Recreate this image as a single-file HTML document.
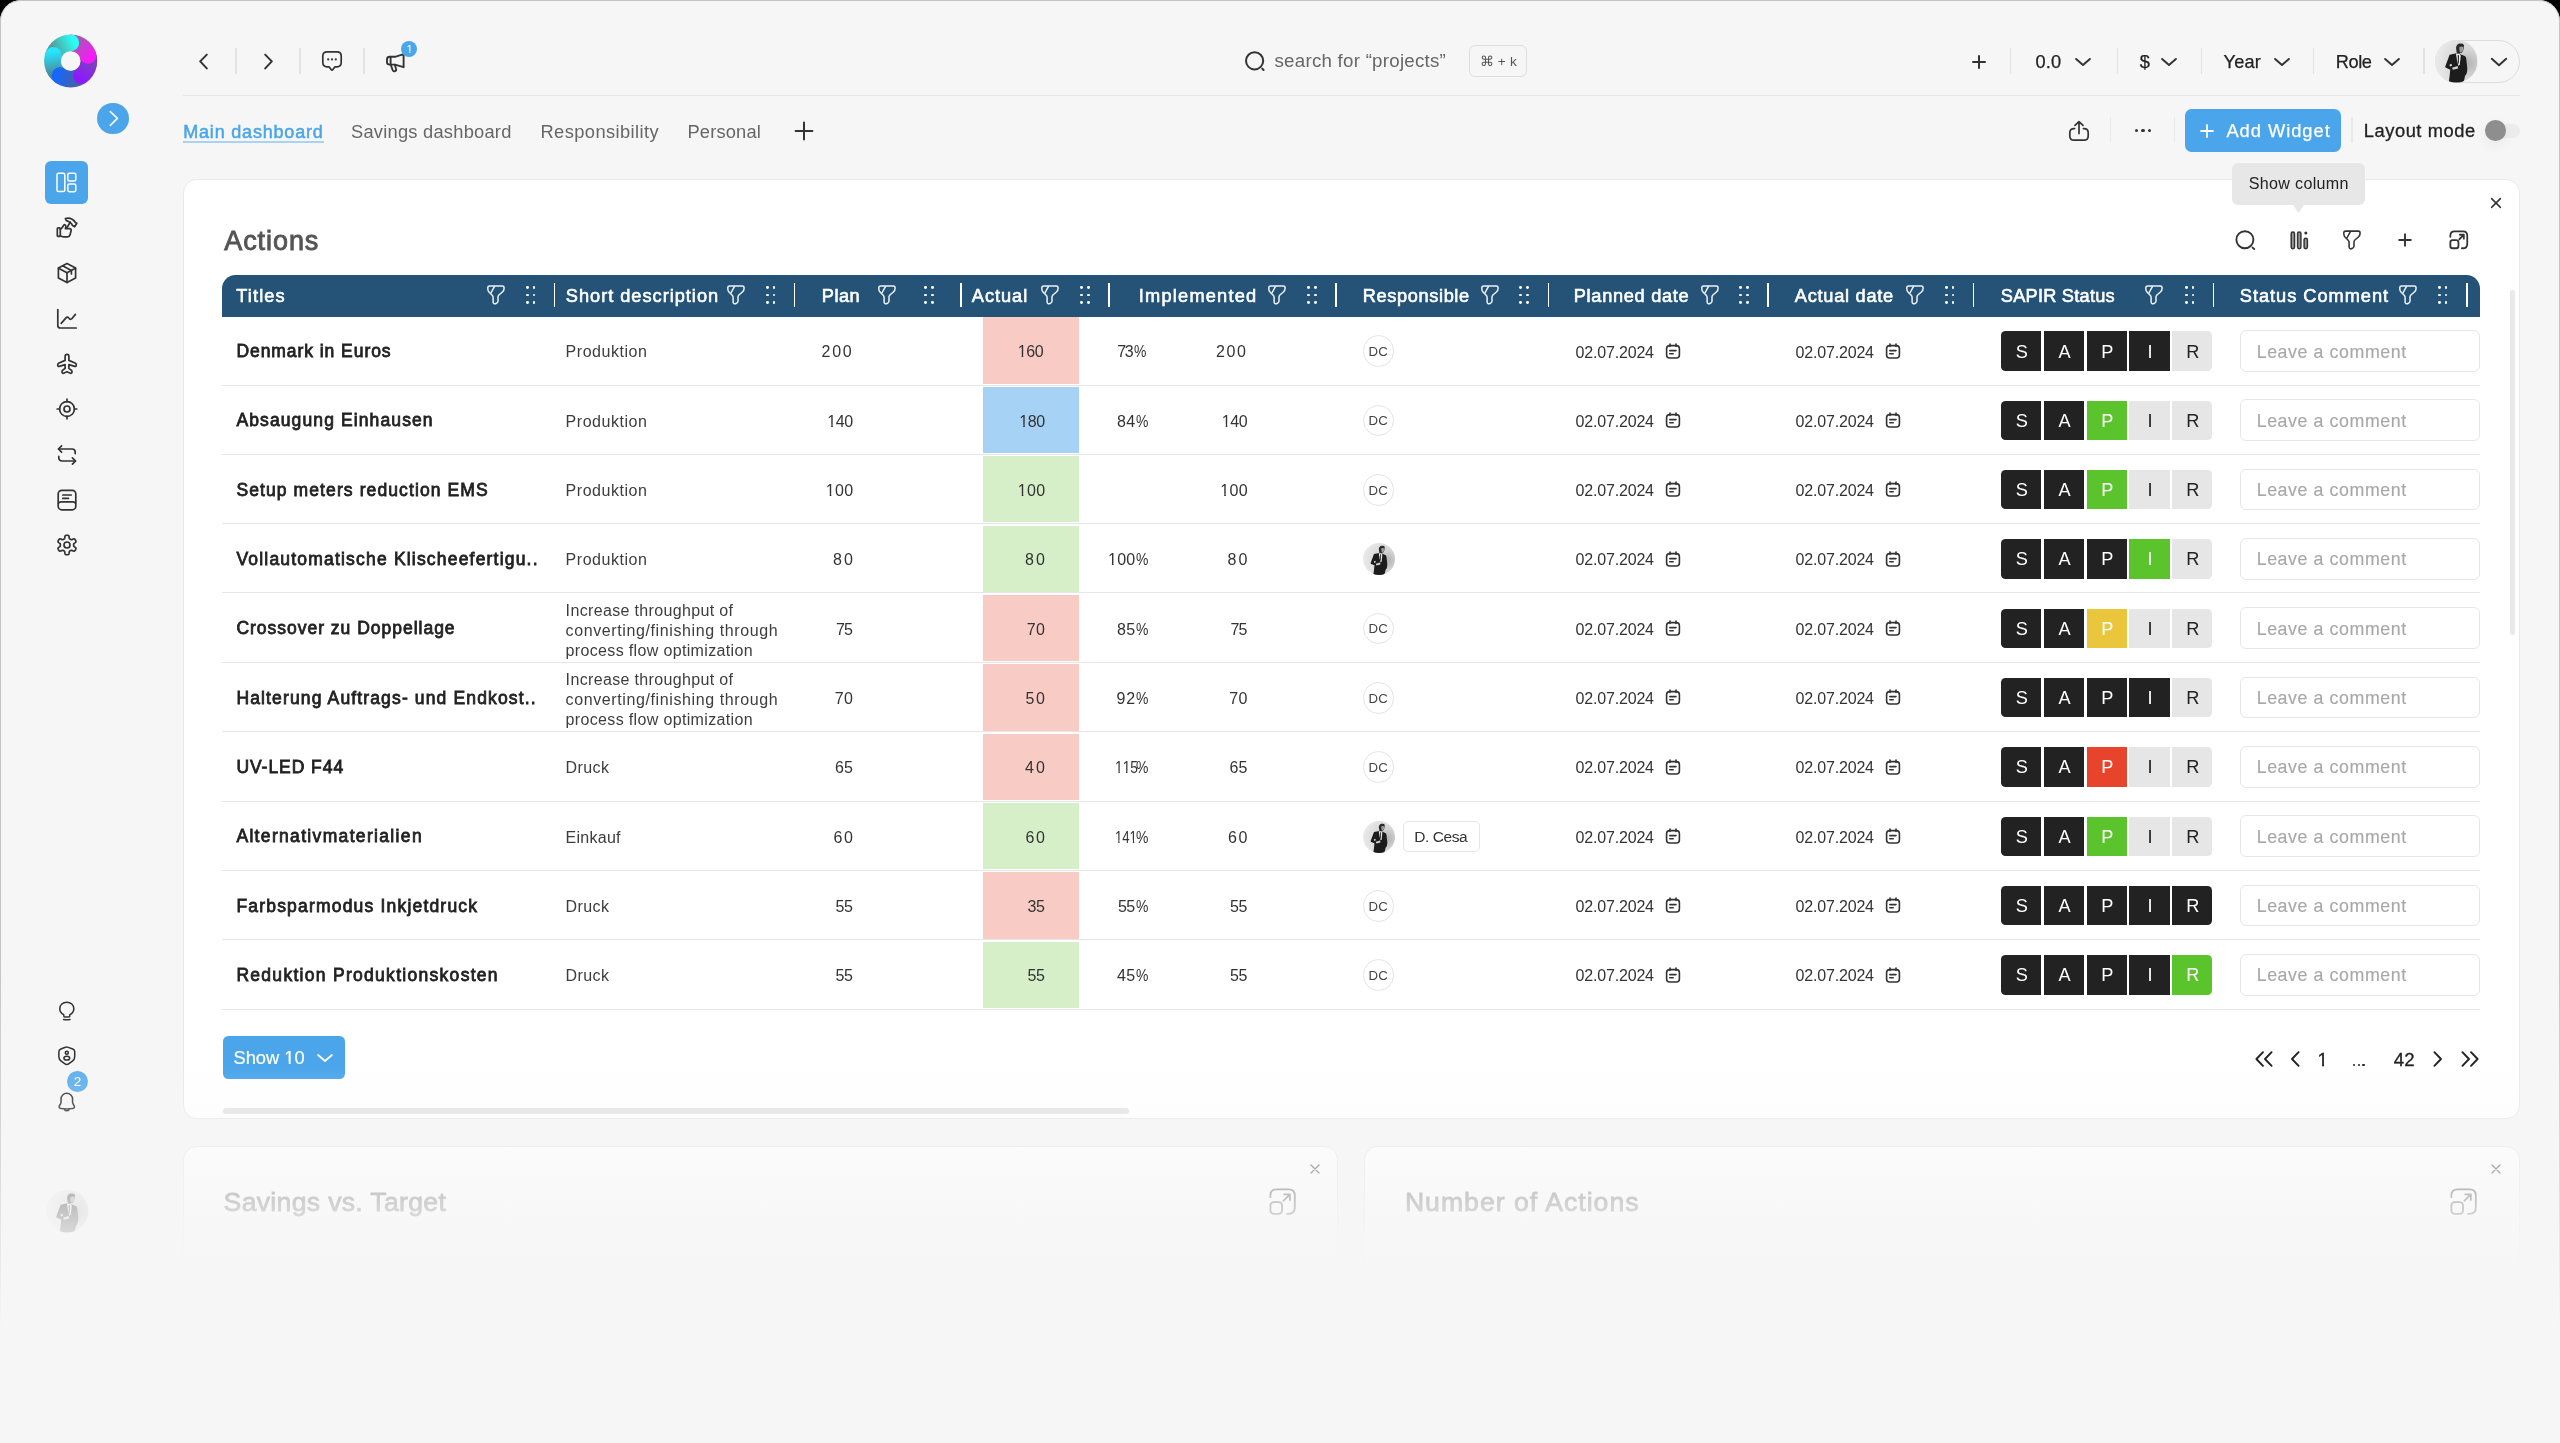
<!DOCTYPE html>
<html><head><meta charset="utf-8"><title>Dashboard</title>
<style>
html,body{margin:0;padding:0;}
body{width:2560px;height:1443px;overflow:hidden;background:#000;font-family:"Liberation Sans",sans-serif;position:relative;}
.b{position:absolute;box-sizing:border-box;}
.t{position:absolute;white-space:nowrap;line-height:1;}
svg{overflow:visible;}
</style></head><body>
<div id="root" style="position:absolute;left:0;top:0;width:2560px;height:1443px;overflow:hidden;will-change:transform;">
<div class="b" style="left:0;top:0;width:2560px;height:1500px;background:#f6f6f6;border-radius:21px 21px 0 0;"></div>
<div class="b" style="left:0;top:0;width:2560px;height:1500px;border-radius:21px 21px 0 0;border:1.7px solid #c4c4c4;border-bottom:none;-webkit-mask-image:linear-gradient(to bottom,#000 0,#000 950px,rgba(0,0,0,.6) 1150px,rgba(0,0,0,0) 1330px);mask-image:linear-gradient(to bottom,#000 0,#000 950px,rgba(0,0,0,.6) 1150px,rgba(0,0,0,0) 1330px);"></div>
<svg class="b" style="left:0.00px;top:0.00px;" width="140" height="120" viewBox="0 0 140 120" fill="none"><defs><linearGradient id="lg0" gradientUnits="userSpaceOnUse" x1="58.06" y1="74.09" x2="55.27" y2="51.36"><stop offset="0" stop-color="#4a8798"/><stop offset="1" stop-color="#27e4ff"/></linearGradient><linearGradient id="lg1" gradientUnits="userSpaceOnUse" x1="54.34" y1="53.02" x2="75.10" y2="43.34"><stop offset="0" stop-color="#559a9a"/><stop offset="1" stop-color="#2bfff2"/></linearGradient><linearGradient id="lg2" gradientUnits="userSpaceOnUse" x1="73.23" y1="42.98" x2="88.86" y2="59.73"><stop offset="0" stop-color="#a35ab0"/><stop offset="1" stop-color="#f71af8"/></linearGradient><linearGradient id="lg3" gradientUnits="userSpaceOnUse" x1="88.62" y1="57.84" x2="77.52" y2="77.87"><stop offset="0" stop-color="#7c45b4"/><stop offset="1" stop-color="#8d18ff"/></linearGradient><linearGradient id="lg4" gradientUnits="userSpaceOnUse" x1="79.24" y1="77.07" x2="56.76" y2="72.70"><stop offset="0" stop-color="#4c5f9e"/><stop offset="1" stop-color="#1667ff"/></linearGradient><clipPath id="lgc"><circle cx="70.7" cy="61" r="26.6"/></clipPath></defs><g clip-path="url(#lgc)"><path d="M60.39 76.00A18.20 18.20 0 0 1 53.39 55.38" stroke="url(#lg0)" stroke-width="17.80"/><path d="M53.25 55.83A18.20 18.20 0 0 1 70.70 42.80" stroke="url(#lg1)" stroke-width="17.80"/><path d="M70.22 42.81A18.20 18.20 0 0 1 88.01 55.38" stroke="url(#lg2)" stroke-width="17.80"/><path d="M87.86 54.92A18.20 18.20 0 0 1 81.40 75.72" stroke="url(#lg3)" stroke-width="17.80"/><path d="M81.78 75.44A18.20 18.20 0 0 1 60.00 75.72" stroke="url(#lg4)" stroke-width="17.80"/><circle cx="53.39" cy="55.38" r="8.40" fill="url(#lg0)"/><circle cx="70.70" cy="42.80" r="8.40" fill="url(#lg1)"/><circle cx="88.01" cy="55.38" r="8.40" fill="url(#lg2)"/><circle cx="81.40" cy="75.72" r="8.40" fill="url(#lg3)"/><circle cx="60.00" cy="75.72" r="8.40" fill="url(#lg4)"/></g><circle cx="70.7" cy="61" r="9.8" fill="#f6f6f6"/></svg>
<div class="b" style="left:97.3px;top:102.6px;width:31.9px;height:31.9px;border-radius:50%;background:#4aa5ea"></div>
<svg class="b" style="left:97.00px;top:102.30px;" width="32.5" height="32.5" viewBox="0 0 32.5 32.5" fill="none"><path d="M13.3 9.6L20.4 16.4L13.3 23.4" stroke="#fff" stroke-width="1.6" stroke-linecap="round" stroke-linejoin="round"/></svg>
<div class="b" style="left:45.3px;top:161.3px;width:42.8px;height:42.8px;border-radius:6px;background:#4aa5ea"></div>
<svg class="b" style="left:45.30px;top:161.30px;" width="42.8" height="42.8" viewBox="0 0 42.8 42.8" fill="none"><rect x="12" y="12.2" width="7.8" height="18.4" rx="1.6" stroke="#fff" stroke-width="1.5"/><rect x="22.8" y="12.2" width="8" height="7.8" rx="1.6" stroke="#fff" stroke-width="1.5"/><rect x="22.8" y="22.9" width="8" height="7.8" rx="1.6" stroke="#fff" stroke-width="1.5"/></svg>
<svg class="b" style="left:54.70px;top:216.30px;" width="24" height="24" viewBox="0 0 24 24" fill="none"><g stroke="#333" stroke-width="1.7" stroke-linecap="round" stroke-linejoin="round"><rect x="2.3" y="11.8" width="3" height="8.6" rx="1"/><path d="M5.3 13.2C7 12.6 7.8 10.6 8.6 9.4C9.6 8 11.2 9 10.8 10.8L10.4 12.6H14.6C15.8 12.6 16.4 13.6 16.1 14.7L15 19C14.7 20.2 13.8 20.8 12.6 20.8H8.4C7.2 20.8 6.2 20.3 5.3 19.6"/><path d="M11.6 12.2L15.2 6.2"/><path d="M10.4 2.6C14 1.6 18 3 20.4 6.4L21.8 7.2L19.6 10.8L17.6 9.6C16.6 7 14 5.4 11.4 4.6Z"/></g></svg>
<svg class="b" style="left:54.70px;top:261.20px;" width="24" height="24" viewBox="0 0 24 24" fill="none"><g stroke="#333" stroke-width="1.7" stroke-linecap="round" stroke-linejoin="round"><path d="M12 2.4L20.6 7V17L12 21.6L3.4 17V7Z"/><path d="M3.6 7.2L12 11.8L20.4 7.2"/><path d="M12 11.8V21.4"/><path d="M7.6 4.8L16.4 9.6V13"/></g></svg>
<svg class="b" style="left:54.70px;top:306.80px;" width="24" height="24" viewBox="0 0 24 24" fill="none"><g stroke="#333" stroke-width="1.7" stroke-linecap="round" stroke-linejoin="round"><path d="M2.8 2.6V18.4C2.8 20 3.8 21 5.4 21H21.2"/><path d="M6.2 16.4L11.2 10.6C11.8 9.9 12.6 9.9 13.3 10.5L14.6 11.8C15.3 12.5 16.2 12.4 16.8 11.7L20.4 7.4"/></g></svg>
<svg class="b" style="left:54.70px;top:352.00px;" width="24" height="24" viewBox="0 0 24 24" fill="none"><g stroke="#333" stroke-width="1.7" stroke-linecap="round" stroke-linejoin="round"><path d="M12 2.4C13.2 2.4 13.9 3.4 13.9 4.6V8.4L20 11C20.9 11.4 21.3 12 21.3 12.9V13.3C21.3 14.2 20.5 14.7 19.7 14.4L13.9 12.6V16.4L16.3 18.2C16.8 18.6 17 19 17 19.6V20C17 20.9 16.2 21.5 15.4 21.2L12 19.8L8.6 21.2C7.8 21.5 7 20.9 7 20V19.6C7 19 7.2 18.6 7.7 18.2L10.1 16.4V12.6L4.3 14.4C3.5 14.7 2.7 14.2 2.7 13.3V12.9C2.7 12 3.1 11.4 4 11L10.1 8.4V4.6C10.1 3.4 10.8 2.4 12 2.4Z"/></g></svg>
<svg class="b" style="left:54.70px;top:397.30px;" width="24" height="24" viewBox="0 0 24 24" fill="none"><g stroke="#333" stroke-width="1.7" stroke-linecap="round" stroke-linejoin="round"><circle cx="12" cy="12" r="7.4"/><circle cx="12" cy="12" r="3"/><path d="M12 2.2V4.6M12 19.4V21.8M2.2 12H4.6M19.4 12H21.8"/></g></svg>
<svg class="b" style="left:54.70px;top:442.50px;" width="24" height="24" viewBox="0 0 24 24" fill="none"><g stroke="#333" stroke-width="1.7" stroke-linecap="round" stroke-linejoin="round"><path d="M6.6 2.8L3.4 6L6.6 9.2"/><path d="M3.8 6H17C18.8 6 20.2 7.2 20.2 9V10.6"/><path d="M17.4 14.8L20.6 18L17.4 21.2"/><path d="M20.2 18H7C5.2 18 3.8 16.8 3.8 15V13.4"/></g></svg>
<svg class="b" style="left:54.50px;top:487.90px;" width="24" height="24" viewBox="0 0 24 24" fill="none"><g stroke="#333" stroke-width="1.7" stroke-linecap="round" stroke-linejoin="round"><rect x="3.2" y="2.4" width="17.6" height="19.4" rx="3.6"/><path d="M3.6 15.2C4 14.4 4.9 13.9 6 13.9H18C19.1 13.9 20 14.4 20.4 15.2"/><path d="M7.8 7H16.2M7.8 10.4H13.4"/></g></svg>
<svg class="b" style="left:54.70px;top:533.40px;" width="24" height="24" viewBox="0 0 24 24" fill="none"><g stroke="#333" stroke-width="1.7" stroke-linecap="round" stroke-linejoin="round"><path d="M12.00 2.24L12.17 2.24L12.34 2.25L12.51 2.26L12.68 2.28L12.85 2.31L13.02 2.34L13.18 2.39L13.34 2.45L13.50 2.54L13.65 2.66L13.78 2.83L13.90 3.05L14.00 3.34L14.07 3.69L14.12 4.08L14.16 4.47L14.20 4.81L14.24 5.10L14.30 5.33L14.37 5.50L14.45 5.63L14.53 5.73L14.62 5.82L14.72 5.89L14.82 5.96L14.92 6.02L15.02 6.08L15.12 6.13L15.22 6.19L15.32 6.25L15.42 6.31L15.52 6.37L15.62 6.42L15.72 6.48L15.83 6.54L15.93 6.59L16.04 6.64L16.16 6.67L16.29 6.70L16.45 6.70L16.63 6.67L16.85 6.61L17.13 6.50L17.45 6.36L17.80 6.20L18.16 6.05L18.50 5.94L18.80 5.88L19.05 5.87L19.26 5.91L19.44 5.97L19.60 6.07L19.73 6.17L19.86 6.29L19.97 6.42L20.08 6.55L20.18 6.69L20.27 6.83L20.37 6.97L20.45 7.12L20.54 7.27L20.62 7.42L20.69 7.57L20.76 7.73L20.82 7.89L20.87 8.05L20.91 8.22L20.94 8.39L20.94 8.57L20.91 8.76L20.83 8.96L20.70 9.17L20.50 9.40L20.23 9.64L19.92 9.88L19.61 10.10L19.32 10.31L19.10 10.49L18.93 10.65L18.81 10.80L18.74 10.93L18.69 11.06L18.67 11.18L18.65 11.30L18.64 11.42L18.64 11.54L18.64 11.65L18.64 11.77L18.64 11.88L18.64 12.00L18.64 12.12L18.64 12.23L18.64 12.35L18.64 12.46L18.64 12.58L18.65 12.70L18.67 12.82L18.69 12.94L18.74 13.07L18.81 13.20L18.93 13.35L19.10 13.51L19.32 13.69L19.61 13.90L19.92 14.12L20.23 14.36L20.50 14.60L20.70 14.83L20.83 15.04L20.91 15.24L20.94 15.43L20.94 15.61L20.91 15.78L20.87 15.95L20.82 16.11L20.76 16.27L20.69 16.43L20.62 16.58L20.54 16.73L20.45 16.88L20.37 17.03L20.27 17.17L20.18 17.31L20.08 17.45L19.97 17.58L19.86 17.71L19.73 17.83L19.60 17.93L19.44 18.03L19.26 18.09L19.05 18.13L18.80 18.12L18.50 18.06L18.16 17.95L17.80 17.80L17.45 17.64L17.13 17.50L16.85 17.39L16.63 17.33L16.45 17.30L16.29 17.30L16.16 17.33L16.04 17.36L15.93 17.41L15.83 17.46L15.72 17.52L15.62 17.58L15.52 17.63L15.42 17.69L15.32 17.75L15.22 17.81L15.12 17.87L15.02 17.92L14.92 17.98L14.82 18.04L14.72 18.11L14.62 18.18L14.53 18.27L14.45 18.37L14.37 18.50L14.30 18.67L14.24 18.90L14.20 19.19L14.16 19.53L14.12 19.92L14.07 20.31L14.00 20.66L13.90 20.95L13.78 21.17L13.65 21.34L13.50 21.46L13.34 21.55L13.18 21.61L13.02 21.66L12.85 21.69L12.68 21.72L12.51 21.74L12.34 21.75L12.17 21.76L12.00 21.76L11.83 21.76L11.66 21.75L11.49 21.74L11.32 21.72L11.15 21.69L10.98 21.66L10.82 21.61L10.66 21.55L10.50 21.46L10.35 21.34L10.22 21.17L10.10 20.95L10.00 20.66L9.93 20.31L9.88 19.92L9.84 19.53L9.80 19.19L9.76 18.90L9.70 18.67L9.63 18.50L9.55 18.37L9.47 18.27L9.38 18.18L9.28 18.11L9.18 18.04L9.08 17.98L8.98 17.92L8.88 17.87L8.78 17.81L8.68 17.75L8.58 17.69L8.48 17.63L8.38 17.58L8.28 17.52L8.17 17.46L8.07 17.41L7.96 17.36L7.84 17.33L7.71 17.30L7.55 17.30L7.37 17.33L7.15 17.39L6.87 17.50L6.55 17.64L6.20 17.80L5.84 17.95L5.50 18.06L5.20 18.12L4.95 18.13L4.74 18.09L4.56 18.03L4.40 17.93L4.27 17.83L4.14 17.71L4.03 17.58L3.92 17.45L3.82 17.31L3.73 17.17L3.63 17.03L3.55 16.88L3.46 16.73L3.38 16.58L3.31 16.43L3.24 16.27L3.18 16.11L3.13 15.95L3.09 15.78L3.06 15.61L3.06 15.43L3.09 15.24L3.17 15.04L3.30 14.83L3.50 14.60L3.77 14.36L4.08 14.12L4.39 13.90L4.68 13.69L4.90 13.51L5.07 13.35L5.19 13.20L5.26 13.07L5.31 12.94L5.33 12.82L5.35 12.70L5.36 12.58L5.36 12.46L5.36 12.35L5.36 12.23L5.36 12.12L5.36 12.00L5.36 11.88L5.36 11.77L5.36 11.65L5.36 11.54L5.36 11.42L5.35 11.30L5.33 11.18L5.31 11.06L5.26 10.93L5.19 10.80L5.07 10.65L4.90 10.49L4.68 10.31L4.39 10.10L4.08 9.88L3.77 9.64L3.50 9.40L3.30 9.17L3.17 8.96L3.09 8.76L3.06 8.57L3.06 8.39L3.09 8.22L3.13 8.05L3.18 7.89L3.24 7.73L3.31 7.57L3.38 7.42L3.46 7.27L3.55 7.12L3.63 6.97L3.73 6.83L3.82 6.69L3.92 6.55L4.03 6.42L4.14 6.29L4.27 6.17L4.40 6.07L4.56 5.97L4.74 5.91L4.95 5.87L5.20 5.88L5.50 5.94L5.84 6.05L6.20 6.20L6.55 6.36L6.87 6.50L7.15 6.61L7.37 6.67L7.55 6.70L7.71 6.70L7.84 6.67L7.96 6.64L8.07 6.59L8.17 6.54L8.28 6.48L8.38 6.42L8.48 6.37L8.58 6.31L8.68 6.25L8.78 6.19L8.88 6.13L8.98 6.08L9.08 6.02L9.18 5.96L9.28 5.89L9.38 5.82L9.47 5.73L9.55 5.63L9.63 5.50L9.70 5.33L9.76 5.10L9.80 4.81L9.84 4.47L9.88 4.08L9.93 3.69L10.00 3.34L10.10 3.05L10.22 2.83L10.35 2.66L10.50 2.54L10.66 2.45L10.82 2.39L10.98 2.34L11.15 2.31L11.32 2.28L11.49 2.26L11.66 2.25L11.83 2.24Z"/><circle cx="12" cy="12" r="3"/></g></svg>
<svg class="b" style="left:55.90px;top:1000.00px;" width="21.6" height="21.6" viewBox="0 0 24 24" fill="none"><g stroke="#333" stroke-width="1.7" stroke-linecap="round" stroke-linejoin="round"><path d="M8.6 16.2C5.8 14.8 4.2 12.4 4.2 9.6C4.2 5.4 7.6 2.4 12 2.4C16.4 2.4 19.8 5.4 19.8 9.6C19.8 12.4 18.2 14.8 15.4 16.2V17.6C15.4 18.4 15 18.8 14.2 18.8H9.8C9 18.8 8.6 18.4 8.6 17.6Z"/><path d="M8.4 21.6C10.8 22.2 13.2 22.2 15.6 21.6"/></g></svg>
<svg class="b" style="left:55.90px;top:1045.10px;" width="21.6" height="21.6" viewBox="0 0 24 24" fill="none"><g stroke="#333" stroke-width="1.7" stroke-linecap="round" stroke-linejoin="round"><path d="M10.4 2.6C11.4 2.2 12.6 2.2 13.6 2.6L18.6 4.5C20 5 20.8 6.2 20.8 7.6V13C20.8 15 19.8 16.8 18.2 18L14.4 20.8C13 21.9 11 21.9 9.6 20.8L5.8 18C4.2 16.8 3.2 15 3.2 13V7.6C3.2 6.2 4 5 5.4 4.5Z"/><circle cx="12" cy="8.6" r="1.7"/><ellipse cx="12" cy="14.6" rx="3.2" ry="2"/></g></svg>
<svg class="b" style="left:55.90px;top:1090.80px;" width="21.6" height="21.6" viewBox="0 0 24 24" fill="none"><g stroke="#333" stroke-width="1.7" stroke-linecap="round" stroke-linejoin="round"><path d="M12 2.6C8.4 2.6 5.6 5.4 5.6 9V12.2C5.6 13 5.3 13.8 4.9 14.5L3.8 16.4C3 17.8 3.7 19.2 5.2 19.4C9.7 20.1 14.3 20.1 18.8 19.4C20.3 19.2 21 17.8 20.2 16.4L19.1 14.5C18.7 13.8 18.4 13 18.4 12.2V9C18.4 5.4 15.6 2.6 12 2.6Z"/><path d="M9.4 20.4C9.8 21.4 10.8 22 12 22C13.2 22 14.2 21.4 14.6 20.4"/></g></svg>
<div class="b" style="left:66.8px;top:1070.8px;width:21.2px;height:21.2px;border-radius:50%;background:#5eb0ee"></div>
<div class="t " style="left:73.80px;top:1075.40px;font-size:13.60px;letter-spacing:0.000px;color:#fff;">2</div>
<svg class="b" style="left:45.50px;top:1189.70px;" width="42.6" height="42.6" viewBox="0 0 42.5 42.5" fill="none"><defs><radialGradient id="agsb" cx="0.78" cy="0.55" r="0.75"><stop offset="0" stop-color="#b4b4b4"/><stop offset="0.45" stop-color="#d6d6d6"/><stop offset="1" stop-color="#e9e9e9"/></radialGradient><clipPath id="acsb"><circle cx="21.25" cy="21.25" r="21.25"/></clipPath></defs><g clip-path="url(#acsb)"><rect width="42.5" height="42.5" fill="url(#agsb)"/><path d="M21.2 9.4C20.4 5.2 23.4 3.2 26 3.6C28.4 3.8 29.4 5 28.8 6.4C28.6 8.2 28.6 9.6 27.6 11.6C27 12.8 26.2 13 25 12.8L24.8 14.4L21.8 14Z" fill="#2a2a2a"/><path d="M24.2 7.2C25.6 6.2 27.4 6.4 28.4 7.2C28.4 9 28 10.6 27.2 11.8C26.4 12.6 25.2 12.4 24.6 11.6Z" fill="#9a9a9a"/><path d="M14.6 14.6L21.6 13.2L26 14.4L29.6 16C30.6 16.6 31 17.4 31.2 18.6L32.2 27.6C32.4 29.8 32 32 31.4 34L30 35.6L29.2 39.6L27.6 43H13.6L14.6 36L15.2 29.6L11 27.8C10.2 27.4 10 26.8 10.4 26Z" fill="#1c1c1c"/><path d="M20.9 13.5L24.6 13.6L25.7 15.6L24.8 24.2L23.4 26L22 20.4Z" fill="#e9e9e9"/><path d="M22.7 14.9L24 15.1L23.8 22.6L23.3 24.2L22.8 22.4Z" fill="#2a2a2a"/><path d="M14.4 24.6L16.4 23.6L17 25.6L15 26.4Z" fill="#ddd"/><path d="M17 27.6L22.6 26L23.2 28.4L17.8 29.8Z" fill="#cfcfcf"/></g></svg>
<svg class="b" style="left:195.00px;top:50.00px;" width="16" height="24" viewBox="0 0 16 24" fill="none"><path d="M11.8 4.6L5.2 11.4L11.8 18.4" stroke="#333" stroke-width="2" stroke-linecap="round" stroke-linejoin="round"/></svg>
<div class="b" style="left:235.25px;top:48.00px;width:1.50px;height:26.40px;background:#e2e2e2;"></div>
<svg class="b" style="left:260.00px;top:50.00px;" width="16" height="24" viewBox="0 0 16 24" fill="none"><path d="M5.2 4.6L11.8 11.4L5.2 18.4" stroke="#333" stroke-width="2" stroke-linecap="round" stroke-linejoin="round"/></svg>
<div class="b" style="left:299.25px;top:48.00px;width:1.50px;height:26.40px;background:#e2e2e2;"></div>
<svg class="b" style="left:320.00px;top:49.30px;" width="24" height="24" viewBox="0 0 24 24" fill="none"><g stroke="#333" stroke-width="1.7" stroke-linecap="round" stroke-linejoin="round"><path d="M7 2.8H17C19.6 2.8 21.2 4.4 21.2 7V13.6C21.2 16.2 19.6 17.8 17 17.8H15L12.9 20.6C12.4 21.3 11.6 21.3 11.1 20.6L9 17.8H7C4.4 17.8 2.8 16.2 2.8 13.6V7C2.8 4.4 4.4 2.8 7 2.8Z"/></g><circle cx="8.2" cy="10.4" r="1.1" fill="#333"/><circle cx="12" cy="10.4" r="1.1" fill="#333"/><circle cx="15.8" cy="10.4" r="1.1" fill="#333"/></svg>
<div class="b" style="left:363.05px;top:48.00px;width:1.50px;height:26.40px;background:#e2e2e2;"></div>
<svg class="b" style="left:384.00px;top:49.80px;" width="24" height="24" viewBox="0 0 24 24" fill="none"><g stroke="#333" stroke-width="1.9" stroke-linecap="round" stroke-linejoin="round"><path d="M19.6 4.2V17.2L11 14.6H5.6C4 14.6 3 13.6 3 12V9.4C3 7.8 4 6.8 5.6 6.8H11Z"/><path d="M6.6 7V14.4"/><path d="M6.8 14.8L8.6 20C9 21.2 10 21.6 11 21.2C12 20.8 12.4 19.9 12 18.8L10.8 14.8"/></g></svg>
<div class="b" style="left:401.2px;top:40.6px;width:16.2px;height:16.2px;border-radius:50%;background:#4aa5ea"></div>
<div class="t " style="left:406.60px;top:43.80px;font-size:11.30px;letter-spacing:0.000px;color:#fff;"><span style="display:inline-block;clip-path:polygon(-2px -6px,11.30px -6px,11.30px 7.11px,3.93px 7.11px,3.93px 12.00px,2.75px 12.00px,2.75px 7.11px,-2px 7.11px)">1</span></div>
<div class="b" style="left:183.00px;top:94.60px;width:2337.00px;height:1.40px;background:#e6e6e6;"></div>
<svg class="b" style="left:1243.00px;top:49.00px;" width="24" height="24" viewBox="0 0 24 24" fill="none"><circle cx="11.6" cy="11.8" r="8.6" stroke="#333" stroke-width="2"/><path d="M19.2 19.6L20.6 21" stroke="#333" stroke-width="2" stroke-linecap="round"/></svg>
<div class="t " style="left:1274.50px;top:52.40px;font-size:18.70px;letter-spacing:0.259px;color:#666;">search for “projects”</div>
<div class="b" style="left:1469.00px;top:45.30px;width:58.20px;height:32.10px;border:1.5px solid #dedede;border-radius:6px;"></div>
<div class="t " style="left:1479.50px;top:55.30px;font-size:13.60px;letter-spacing:0.233px;color:#555;">⌘ + k</div>
<svg class="b" style="left:1966.75px;top:49.70px;" width="24" height="24" viewBox="0 0 24 24" fill="none"><path d="M12 6V18M6 12H18" stroke="#333" stroke-width="2" stroke-linecap="round" stroke-linejoin="round"/></svg>
<div class="b" style="left:2009.65px;top:48.00px;width:1.50px;height:26.40px;background:#e2e2e2;"></div>
<div class="t " style="left:2035.62px;top:53.20px;font-size:18.20px;letter-spacing:0.135px;color:#222;-webkit-text-stroke:0.25px #222;">0.0</div>
<svg class="b" style="left:2071.00px;top:54.20px;" width="24" height="16" viewBox="0 0 24 16" fill="none"><path d="M5.10 5.00L12 11.00L18.90 5.00" stroke="#333" stroke-width="2" stroke-linecap="round" stroke-linejoin="round"/></svg>
<div class="b" style="left:2116.55px;top:48.00px;width:1.50px;height:26.40px;background:#e2e2e2;"></div>
<div class="t " style="left:2139.72px;top:53.20px;font-size:18.20px;letter-spacing:0.000px;color:#222;-webkit-text-stroke:0.25px #222;">$</div>
<svg class="b" style="left:2157.30px;top:54.20px;" width="24" height="16" viewBox="0 0 24 16" fill="none"><path d="M5.10 5.00L12 11.00L18.90 5.00" stroke="#333" stroke-width="2" stroke-linecap="round" stroke-linejoin="round"/></svg>
<div class="b" style="left:2200.55px;top:48.00px;width:1.50px;height:26.40px;background:#e2e2e2;"></div>
<div class="t " style="left:2223.53px;top:53.20px;font-size:18.20px;letter-spacing:0.180px;color:#222;-webkit-text-stroke:0.25px #222;">Year</div>
<svg class="b" style="left:2269.70px;top:54.20px;" width="24" height="16" viewBox="0 0 24 16" fill="none"><path d="M5.10 5.00L12 11.00L18.90 5.00" stroke="#333" stroke-width="2" stroke-linecap="round" stroke-linejoin="round"/></svg>
<div class="b" style="left:2312.85px;top:48.00px;width:1.50px;height:26.40px;background:#e2e2e2;"></div>
<div class="t " style="left:2335.72px;top:53.20px;font-size:18.20px;letter-spacing:-0.420px;color:#222;-webkit-text-stroke:0.25px #222;">Role</div>
<svg class="b" style="left:2380.40px;top:54.20px;" width="24" height="16" viewBox="0 0 24 16" fill="none"><path d="M5.10 5.00L12 11.00L18.90 5.00" stroke="#333" stroke-width="2" stroke-linecap="round" stroke-linejoin="round"/></svg>
<div class="b" style="left:2423.25px;top:48.00px;width:1.50px;height:26.40px;background:#e2e2e2;"></div>
<div class="b" style="left:2435.00px;top:40.00px;width:85.00px;height:42.80px;border:1.3px solid #dcdcdc;border-radius:22px;"></div>
<svg class="b" style="left:2435.00px;top:40.10px;" width="42.6" height="42.6" viewBox="0 0 42.5 42.5" fill="none"><defs><radialGradient id="agtp" cx="0.78" cy="0.55" r="0.75"><stop offset="0" stop-color="#b4b4b4"/><stop offset="0.45" stop-color="#d6d6d6"/><stop offset="1" stop-color="#e9e9e9"/></radialGradient><clipPath id="actp"><circle cx="21.25" cy="21.25" r="21.25"/></clipPath></defs><g clip-path="url(#actp)"><rect width="42.5" height="42.5" fill="url(#agtp)"/><path d="M21.2 9.4C20.4 5.2 23.4 3.2 26 3.6C28.4 3.8 29.4 5 28.8 6.4C28.6 8.2 28.6 9.6 27.6 11.6C27 12.8 26.2 13 25 12.8L24.8 14.4L21.8 14Z" fill="#2a2a2a"/><path d="M24.2 7.2C25.6 6.2 27.4 6.4 28.4 7.2C28.4 9 28 10.6 27.2 11.8C26.4 12.6 25.2 12.4 24.6 11.6Z" fill="#9a9a9a"/><path d="M14.6 14.6L21.6 13.2L26 14.4L29.6 16C30.6 16.6 31 17.4 31.2 18.6L32.2 27.6C32.4 29.8 32 32 31.4 34L30 35.6L29.2 39.6L27.6 43H13.6L14.6 36L15.2 29.6L11 27.8C10.2 27.4 10 26.8 10.4 26Z" fill="#1c1c1c"/><path d="M20.9 13.5L24.6 13.6L25.7 15.6L24.8 24.2L23.4 26L22 20.4Z" fill="#e9e9e9"/><path d="M22.7 14.9L24 15.1L23.8 22.6L23.3 24.2L22.8 22.4Z" fill="#2a2a2a"/><path d="M14.4 24.6L16.4 23.6L17 25.6L15 26.4Z" fill="#ddd"/><path d="M17 27.6L22.6 26L23.2 28.4L17.8 29.8Z" fill="#cfcfcf"/></g></svg>
<svg class="b" style="left:2486.60px;top:53.80px;" width="24" height="16" viewBox="0 0 24 16" fill="none"><path d="M4.80 4.80L12 11.20L19.20 4.80" stroke="#333" stroke-width="2" stroke-linecap="round" stroke-linejoin="round"/></svg>
<div class="t " style="left:183.25px;top:122.80px;font-size:18.00px;letter-spacing:0.802px;color:#4aa5ea;-webkit-text-stroke:0.50px #4aa5ea;">Main dashboard</div>
<div class="b" style="left:183.00px;top:141.40px;width:140.50px;height:1.40px;background:#a9d3f5;"></div>
<div class="t " style="left:351.00px;top:122.80px;font-size:18.30px;letter-spacing:0.240px;color:#666;">Savings dashboard</div>
<div class="t " style="left:540.50px;top:122.80px;font-size:18.30px;letter-spacing:0.415px;color:#666;">Responsibility</div>
<div class="t " style="left:687.50px;top:122.80px;font-size:18.30px;letter-spacing:0.159px;color:#666;">Personal</div>
<svg class="b" style="left:792.00px;top:119.00px;" width="24" height="24" viewBox="0 0 24 24" fill="none"><path d="M12 3.6V20.4M3.6 12H20.4" stroke="#333" stroke-width="2" stroke-linecap="round" stroke-linejoin="round"/></svg>
<svg class="b" style="left:2066.70px;top:118.50px;" width="24" height="24" viewBox="0 0 24 24" fill="none"><g stroke="#333" stroke-width="1.7" stroke-linecap="round" stroke-linejoin="round"><path d="M12 14.6V2.8M8 6.4L12 2.6L16 6.4"/><path d="M7.6 9.6H7C4.4 9.6 2.8 11.2 2.8 13.8V17C2.8 19.6 4.4 21.2 7 21.2H17C19.6 21.2 21.2 19.6 21.2 17V13.8C21.2 11.2 19.6 9.6 17 9.6H16.4"/></g></svg>
<div class="b" style="left:2109.65px;top:116.90px;width:1.50px;height:26.60px;background:#eaeaea;"></div>
<div class="b" style="left:2134.80px;top:129px;width:3.3px;height:3.3px;border-radius:50%;background:#333"></div>
<div class="b" style="left:2141.30px;top:129px;width:3.3px;height:3.3px;border-radius:50%;background:#333"></div>
<div class="b" style="left:2147.80px;top:129px;width:3.3px;height:3.3px;border-radius:50%;background:#333"></div>
<div class="b" style="left:2173.55px;top:116.90px;width:1.50px;height:26.60px;background:#eaeaea;"></div>
<div class="b" style="left:2185.40px;top:109.00px;width:155.80px;height:43.00px;background:#4aa5ea;border-radius:6.5px;"></div>
<svg class="b" style="left:2194.70px;top:118.60px;" width="24" height="24" viewBox="0 0 24 24" fill="none"><path d="M12 6V18M6 12H18" stroke="#fff" stroke-width="1.8" stroke-linecap="round"/></svg>
<div class="t " style="left:2226.43px;top:122.30px;font-size:18.30px;letter-spacing:0.979px;color:#fff;-webkit-text-stroke:0.25px #fff;">Add Widget</div>
<div class="b" style="left:2351.25px;top:116.90px;width:1.50px;height:26.60px;background:#eaeaea;"></div>
<div class="t " style="left:2363.75px;top:122.30px;font-size:18.30px;letter-spacing:0.561px;color:#222;-webkit-text-stroke:0.30px #222;">Layout mode</div>
<div class="b" style="left:2485.50px;top:123.80px;width:34.50px;height:13.80px;background:#ececec;border-radius:7px;"></div>
<div class="b" style="left:2485.4px;top:120.3px;width:20.6px;height:20.6px;border-radius:50%;background:#8e8e8e;box-shadow:0 4px 14px rgba(0,0,0,.06)"></div>
<div class="b" style="left:182.80px;top:178.80px;width:2337.00px;height:939.80px;background:#fff;border:1.3px solid #e9e9e9;border-radius:13.5px;"></div>
<div class="t " style="left:224.25px;top:227.80px;font-size:27.00px;letter-spacing:0.926px;color:#555;-webkit-text-stroke:0.90px #555;">Actions</div>
<svg class="b" style="left:2488.00px;top:194.70px;" width="16" height="16" viewBox="0 0 16 16" fill="none"><path d="M3.6 3.6L12.4 12.4M12.4 3.6L3.6 12.4" stroke="#333" stroke-width="1.5" stroke-linecap="round"/></svg>
<div class="b" style="left:2232.20px;top:162.80px;width:132.80px;height:42.20px;background:#e7e7e7;border-radius:6px;"></div>
<svg class="b" style="left:2290.00px;top:204.50px;" width="17" height="9" viewBox="0 0 17 9" fill="none"><path d="M3.2 0H13.8L9.3 7C8.8 7.7 8.2 7.7 7.7 7Z" fill="#e7e7e7"/></svg>
<div class="t " style="left:2248.80px;top:175.40px;font-size:16.10px;letter-spacing:0.307px;color:#222;">Show column</div>
<svg class="b" style="left:2233.00px;top:228.00px;" width="24" height="24" viewBox="0 0 24 24" fill="none"><circle cx="11.9" cy="11.7" r="8.5" stroke="#333" stroke-width="1.9"/><path d="M19.6 19.6L21.2 21" stroke="#333" stroke-width="1.9" stroke-linecap="round"/></svg>
<svg class="b" style="left:2286.50px;top:228.00px;" width="24" height="24" viewBox="0 0 24 24" fill="none"><g stroke="#333" stroke-width="1.5"><rect x="4.2" y="3.9" width="3.3" height="16.8" rx="1.6" fill="#9a9a9a"/><rect x="10.6" y="3.9" width="3.3" height="16.8" rx="1.6" fill="#9a9a9a"/><rect x="17.1" y="10.2" width="3.3" height="10.5" rx="1.6" fill="#9a9a9a"/></g><circle cx="18.8" cy="5" r="1.5" fill="#333"/></svg>
<svg class="b" style="left:2342.00px;top:229.00px;" width="20" height="22" viewBox="0 0 20 22" fill="none"><path d="M3.6 2.1H16.4C17.6 2.1 18.1 3 18.1 4.2C18.1 5.8 17.6 7 16.4 8L12.9 11C12.2 11.6 12 12.2 12 13V17C12 17.8 11.7 18.3 11 18.8L9.9 19.5C8.6 20.3 7.1 19.6 7.1 18.1V13.4C7.1 12.5 6.8 11.9 6.2 11.3L3.2 8.3C2.2 7.3 1.8 6.2 1.8 4.8V4C1.8 2.8 2.4 2.1 3.6 2.1Z" stroke="#333" stroke-width="1.55" stroke-linejoin="round"/><path d="M8.4 2.6L4.9 9" stroke="#333" stroke-width="1.55" stroke-linecap="round"/></svg>
<svg class="b" style="left:2393.30px;top:228.20px;" width="24" height="24" viewBox="0 0 24 24" fill="none"><path d="M12 6.2V17.8M6.2 12H17.8" stroke="#333" stroke-width="1.9" stroke-linecap="round"/></svg>
<svg class="b" style="left:2447.60px;top:229.20px;" width="21.6" height="21.6" viewBox="0 0 24 24" fill="none"><g stroke="#333" stroke-width="2" stroke-linecap="round" stroke-linejoin="round"><path d="M2.6 8.6V7.4C2.6 4.4 4.4 2.6 7.4 2.6H16.6C19.6 2.6 21.4 4.4 21.4 7.4V16.6C21.4 19.6 19.6 21.4 16.6 21.4H15.4"/><rect x="2.6" y="12.4" width="9" height="9" rx="2.6"/><path d="M12.6 11.4L17.4 6.6M13.2 6.4H17.6V10.8"/></g></svg>
<div class="b" style="left:222.40px;top:274.60px;width:2257.60px;height:42.60px;background:#255377;border-radius:13.5px 13.5px 0 0;"></div>
<div class="t " style="left:236.30px;top:287.30px;font-size:18.20px;letter-spacing:1.118px;color:#fff;-webkit-text-stroke:0.60px #fff;">Titles</div>
<svg class="b" style="left:485.90px;top:283.70px;" width="20" height="22" viewBox="0 0 20 22" fill="none"><path d="M3.6 2.1H16.4C17.6 2.1 18.1 3 18.1 4.2C18.1 5.8 17.6 7 16.4 8L12.9 11C12.2 11.6 12 12.2 12 13V17C12 17.8 11.7 18.3 11 18.8L9.9 19.5C8.6 20.3 7.1 19.6 7.1 18.1V13.4C7.1 12.5 6.8 11.9 6.2 11.3L3.2 8.3C2.2 7.3 1.8 6.2 1.8 4.8V4C1.8 2.8 2.4 2.1 3.6 2.1Z" stroke="#eef2f6" stroke-width="1.5" stroke-linejoin="round"/><path d="M8.4 2.6L4.9 9" stroke="#eef2f6" stroke-width="1.5" stroke-linecap="round"/></svg>
<div class="b" style="left:525.80px;top:286.00px;width:2.8px;height:2.8px;border-radius:50%;background:#fff"></div>
<div class="b" style="left:532.55px;top:286.00px;width:2.8px;height:2.8px;border-radius:50%;background:#fff"></div>
<div class="b" style="left:525.80px;top:293.60px;width:2.8px;height:2.8px;border-radius:50%;background:#fff"></div>
<div class="b" style="left:532.55px;top:293.60px;width:2.8px;height:2.8px;border-radius:50%;background:#fff"></div>
<div class="b" style="left:525.80px;top:301.20px;width:2.8px;height:2.8px;border-radius:50%;background:#fff"></div>
<div class="b" style="left:532.55px;top:301.20px;width:2.8px;height:2.8px;border-radius:50%;background:#fff"></div>
<div class="b" style="left:553.70px;top:283.30px;width:1.60px;height:23.30px;background:#fff;"></div>
<div class="t " style="left:565.80px;top:287.30px;font-size:18.20px;letter-spacing:0.990px;color:#fff;-webkit-text-stroke:0.60px #fff;">Short description</div>
<svg class="b" style="left:726.40px;top:283.70px;" width="20" height="22" viewBox="0 0 20 22" fill="none"><path d="M3.6 2.1H16.4C17.6 2.1 18.1 3 18.1 4.2C18.1 5.8 17.6 7 16.4 8L12.9 11C12.2 11.6 12 12.2 12 13V17C12 17.8 11.7 18.3 11 18.8L9.9 19.5C8.6 20.3 7.1 19.6 7.1 18.1V13.4C7.1 12.5 6.8 11.9 6.2 11.3L3.2 8.3C2.2 7.3 1.8 6.2 1.8 4.8V4C1.8 2.8 2.4 2.1 3.6 2.1Z" stroke="#eef2f6" stroke-width="1.5" stroke-linejoin="round"/><path d="M8.4 2.6L4.9 9" stroke="#eef2f6" stroke-width="1.5" stroke-linecap="round"/></svg>
<div class="b" style="left:765.80px;top:286.00px;width:2.8px;height:2.8px;border-radius:50%;background:#fff"></div>
<div class="b" style="left:772.55px;top:286.00px;width:2.8px;height:2.8px;border-radius:50%;background:#fff"></div>
<div class="b" style="left:765.80px;top:293.60px;width:2.8px;height:2.8px;border-radius:50%;background:#fff"></div>
<div class="b" style="left:772.55px;top:293.60px;width:2.8px;height:2.8px;border-radius:50%;background:#fff"></div>
<div class="b" style="left:765.80px;top:301.20px;width:2.8px;height:2.8px;border-radius:50%;background:#fff"></div>
<div class="b" style="left:772.55px;top:301.20px;width:2.8px;height:2.8px;border-radius:50%;background:#fff"></div>
<div class="b" style="left:793.70px;top:283.30px;width:1.60px;height:23.30px;background:#fff;"></div>
<div class="t " style="left:821.80px;top:287.30px;font-size:18.20px;letter-spacing:0.498px;color:#fff;-webkit-text-stroke:0.60px #fff;">Plan</div>
<svg class="b" style="left:876.90px;top:283.70px;" width="20" height="22" viewBox="0 0 20 22" fill="none"><path d="M3.6 2.1H16.4C17.6 2.1 18.1 3 18.1 4.2C18.1 5.8 17.6 7 16.4 8L12.9 11C12.2 11.6 12 12.2 12 13V17C12 17.8 11.7 18.3 11 18.8L9.9 19.5C8.6 20.3 7.1 19.6 7.1 18.1V13.4C7.1 12.5 6.8 11.9 6.2 11.3L3.2 8.3C2.2 7.3 1.8 6.2 1.8 4.8V4C1.8 2.8 2.4 2.1 3.6 2.1Z" stroke="#eef2f6" stroke-width="1.5" stroke-linejoin="round"/><path d="M8.4 2.6L4.9 9" stroke="#eef2f6" stroke-width="1.5" stroke-linecap="round"/></svg>
<div class="b" style="left:924.30px;top:286.00px;width:2.8px;height:2.8px;border-radius:50%;background:#fff"></div>
<div class="b" style="left:931.05px;top:286.00px;width:2.8px;height:2.8px;border-radius:50%;background:#fff"></div>
<div class="b" style="left:924.30px;top:293.60px;width:2.8px;height:2.8px;border-radius:50%;background:#fff"></div>
<div class="b" style="left:931.05px;top:293.60px;width:2.8px;height:2.8px;border-radius:50%;background:#fff"></div>
<div class="b" style="left:924.30px;top:301.20px;width:2.8px;height:2.8px;border-radius:50%;background:#fff"></div>
<div class="b" style="left:931.05px;top:301.20px;width:2.8px;height:2.8px;border-radius:50%;background:#fff"></div>
<div class="b" style="left:960.20px;top:283.30px;width:1.60px;height:23.30px;background:#fff;"></div>
<div class="t " style="left:971.80px;top:287.30px;font-size:18.20px;letter-spacing:0.971px;color:#fff;-webkit-text-stroke:0.60px #fff;">Actual</div>
<svg class="b" style="left:1040.40px;top:283.70px;" width="20" height="22" viewBox="0 0 20 22" fill="none"><path d="M3.6 2.1H16.4C17.6 2.1 18.1 3 18.1 4.2C18.1 5.8 17.6 7 16.4 8L12.9 11C12.2 11.6 12 12.2 12 13V17C12 17.8 11.7 18.3 11 18.8L9.9 19.5C8.6 20.3 7.1 19.6 7.1 18.1V13.4C7.1 12.5 6.8 11.9 6.2 11.3L3.2 8.3C2.2 7.3 1.8 6.2 1.8 4.8V4C1.8 2.8 2.4 2.1 3.6 2.1Z" stroke="#eef2f6" stroke-width="1.5" stroke-linejoin="round"/><path d="M8.4 2.6L4.9 9" stroke="#eef2f6" stroke-width="1.5" stroke-linecap="round"/></svg>
<div class="b" style="left:1080.30px;top:286.00px;width:2.8px;height:2.8px;border-radius:50%;background:#fff"></div>
<div class="b" style="left:1087.05px;top:286.00px;width:2.8px;height:2.8px;border-radius:50%;background:#fff"></div>
<div class="b" style="left:1080.30px;top:293.60px;width:2.8px;height:2.8px;border-radius:50%;background:#fff"></div>
<div class="b" style="left:1087.05px;top:293.60px;width:2.8px;height:2.8px;border-radius:50%;background:#fff"></div>
<div class="b" style="left:1080.30px;top:301.20px;width:2.8px;height:2.8px;border-radius:50%;background:#fff"></div>
<div class="b" style="left:1087.05px;top:301.20px;width:2.8px;height:2.8px;border-radius:50%;background:#fff"></div>
<div class="b" style="left:1108.20px;top:283.30px;width:1.60px;height:23.30px;background:#fff;"></div>
<div class="t " style="left:1138.80px;top:287.30px;font-size:18.20px;letter-spacing:1.221px;color:#fff;-webkit-text-stroke:0.60px #fff;">Implemented</div>
<svg class="b" style="left:1267.40px;top:283.70px;" width="20" height="22" viewBox="0 0 20 22" fill="none"><path d="M3.6 2.1H16.4C17.6 2.1 18.1 3 18.1 4.2C18.1 5.8 17.6 7 16.4 8L12.9 11C12.2 11.6 12 12.2 12 13V17C12 17.8 11.7 18.3 11 18.8L9.9 19.5C8.6 20.3 7.1 19.6 7.1 18.1V13.4C7.1 12.5 6.8 11.9 6.2 11.3L3.2 8.3C2.2 7.3 1.8 6.2 1.8 4.8V4C1.8 2.8 2.4 2.1 3.6 2.1Z" stroke="#eef2f6" stroke-width="1.5" stroke-linejoin="round"/><path d="M8.4 2.6L4.9 9" stroke="#eef2f6" stroke-width="1.5" stroke-linecap="round"/></svg>
<div class="b" style="left:1307.30px;top:286.00px;width:2.8px;height:2.8px;border-radius:50%;background:#fff"></div>
<div class="b" style="left:1314.05px;top:286.00px;width:2.8px;height:2.8px;border-radius:50%;background:#fff"></div>
<div class="b" style="left:1307.30px;top:293.60px;width:2.8px;height:2.8px;border-radius:50%;background:#fff"></div>
<div class="b" style="left:1314.05px;top:293.60px;width:2.8px;height:2.8px;border-radius:50%;background:#fff"></div>
<div class="b" style="left:1307.30px;top:301.20px;width:2.8px;height:2.8px;border-radius:50%;background:#fff"></div>
<div class="b" style="left:1314.05px;top:301.20px;width:2.8px;height:2.8px;border-radius:50%;background:#fff"></div>
<div class="b" style="left:1335.20px;top:283.30px;width:1.60px;height:23.30px;background:#fff;"></div>
<div class="t " style="left:1362.80px;top:287.30px;font-size:18.20px;letter-spacing:0.626px;color:#fff;-webkit-text-stroke:0.60px #fff;">Responsible</div>
<svg class="b" style="left:1479.90px;top:283.70px;" width="20" height="22" viewBox="0 0 20 22" fill="none"><path d="M3.6 2.1H16.4C17.6 2.1 18.1 3 18.1 4.2C18.1 5.8 17.6 7 16.4 8L12.9 11C12.2 11.6 12 12.2 12 13V17C12 17.8 11.7 18.3 11 18.8L9.9 19.5C8.6 20.3 7.1 19.6 7.1 18.1V13.4C7.1 12.5 6.8 11.9 6.2 11.3L3.2 8.3C2.2 7.3 1.8 6.2 1.8 4.8V4C1.8 2.8 2.4 2.1 3.6 2.1Z" stroke="#eef2f6" stroke-width="1.5" stroke-linejoin="round"/><path d="M8.4 2.6L4.9 9" stroke="#eef2f6" stroke-width="1.5" stroke-linecap="round"/></svg>
<div class="b" style="left:1519.30px;top:286.00px;width:2.8px;height:2.8px;border-radius:50%;background:#fff"></div>
<div class="b" style="left:1526.05px;top:286.00px;width:2.8px;height:2.8px;border-radius:50%;background:#fff"></div>
<div class="b" style="left:1519.30px;top:293.60px;width:2.8px;height:2.8px;border-radius:50%;background:#fff"></div>
<div class="b" style="left:1526.05px;top:293.60px;width:2.8px;height:2.8px;border-radius:50%;background:#fff"></div>
<div class="b" style="left:1519.30px;top:301.20px;width:2.8px;height:2.8px;border-radius:50%;background:#fff"></div>
<div class="b" style="left:1526.05px;top:301.20px;width:2.8px;height:2.8px;border-radius:50%;background:#fff"></div>
<div class="b" style="left:1547.70px;top:283.30px;width:1.60px;height:23.30px;background:#fff;"></div>
<div class="t " style="left:1573.80px;top:287.30px;font-size:18.20px;letter-spacing:0.695px;color:#fff;-webkit-text-stroke:0.60px #fff;">Planned date</div>
<svg class="b" style="left:1699.90px;top:283.70px;" width="20" height="22" viewBox="0 0 20 22" fill="none"><path d="M3.6 2.1H16.4C17.6 2.1 18.1 3 18.1 4.2C18.1 5.8 17.6 7 16.4 8L12.9 11C12.2 11.6 12 12.2 12 13V17C12 17.8 11.7 18.3 11 18.8L9.9 19.5C8.6 20.3 7.1 19.6 7.1 18.1V13.4C7.1 12.5 6.8 11.9 6.2 11.3L3.2 8.3C2.2 7.3 1.8 6.2 1.8 4.8V4C1.8 2.8 2.4 2.1 3.6 2.1Z" stroke="#eef2f6" stroke-width="1.5" stroke-linejoin="round"/><path d="M8.4 2.6L4.9 9" stroke="#eef2f6" stroke-width="1.5" stroke-linecap="round"/></svg>
<div class="b" style="left:1739.30px;top:286.00px;width:2.8px;height:2.8px;border-radius:50%;background:#fff"></div>
<div class="b" style="left:1746.05px;top:286.00px;width:2.8px;height:2.8px;border-radius:50%;background:#fff"></div>
<div class="b" style="left:1739.30px;top:293.60px;width:2.8px;height:2.8px;border-radius:50%;background:#fff"></div>
<div class="b" style="left:1746.05px;top:293.60px;width:2.8px;height:2.8px;border-radius:50%;background:#fff"></div>
<div class="b" style="left:1739.30px;top:301.20px;width:2.8px;height:2.8px;border-radius:50%;background:#fff"></div>
<div class="b" style="left:1746.05px;top:301.20px;width:2.8px;height:2.8px;border-radius:50%;background:#fff"></div>
<div class="b" style="left:1767.20px;top:283.30px;width:1.60px;height:23.30px;background:#fff;"></div>
<div class="t " style="left:1794.80px;top:287.30px;font-size:18.20px;letter-spacing:0.736px;color:#fff;-webkit-text-stroke:0.60px #fff;">Actual date</div>
<svg class="b" style="left:1904.90px;top:283.70px;" width="20" height="22" viewBox="0 0 20 22" fill="none"><path d="M3.6 2.1H16.4C17.6 2.1 18.1 3 18.1 4.2C18.1 5.8 17.6 7 16.4 8L12.9 11C12.2 11.6 12 12.2 12 13V17C12 17.8 11.7 18.3 11 18.8L9.9 19.5C8.6 20.3 7.1 19.6 7.1 18.1V13.4C7.1 12.5 6.8 11.9 6.2 11.3L3.2 8.3C2.2 7.3 1.8 6.2 1.8 4.8V4C1.8 2.8 2.4 2.1 3.6 2.1Z" stroke="#eef2f6" stroke-width="1.5" stroke-linejoin="round"/><path d="M8.4 2.6L4.9 9" stroke="#eef2f6" stroke-width="1.5" stroke-linecap="round"/></svg>
<div class="b" style="left:1944.80px;top:286.00px;width:2.8px;height:2.8px;border-radius:50%;background:#fff"></div>
<div class="b" style="left:1951.55px;top:286.00px;width:2.8px;height:2.8px;border-radius:50%;background:#fff"></div>
<div class="b" style="left:1944.80px;top:293.60px;width:2.8px;height:2.8px;border-radius:50%;background:#fff"></div>
<div class="b" style="left:1951.55px;top:293.60px;width:2.8px;height:2.8px;border-radius:50%;background:#fff"></div>
<div class="b" style="left:1944.80px;top:301.20px;width:2.8px;height:2.8px;border-radius:50%;background:#fff"></div>
<div class="b" style="left:1951.55px;top:301.20px;width:2.8px;height:2.8px;border-radius:50%;background:#fff"></div>
<div class="b" style="left:1972.70px;top:283.30px;width:1.60px;height:23.30px;background:#fff;"></div>
<div class="t " style="left:2000.80px;top:287.30px;font-size:18.20px;letter-spacing:0.239px;color:#fff;-webkit-text-stroke:0.60px #fff;">SAPIR Status</div>
<svg class="b" style="left:2144.40px;top:283.70px;" width="20" height="22" viewBox="0 0 20 22" fill="none"><path d="M3.6 2.1H16.4C17.6 2.1 18.1 3 18.1 4.2C18.1 5.8 17.6 7 16.4 8L12.9 11C12.2 11.6 12 12.2 12 13V17C12 17.8 11.7 18.3 11 18.8L9.9 19.5C8.6 20.3 7.1 19.6 7.1 18.1V13.4C7.1 12.5 6.8 11.9 6.2 11.3L3.2 8.3C2.2 7.3 1.8 6.2 1.8 4.8V4C1.8 2.8 2.4 2.1 3.6 2.1Z" stroke="#eef2f6" stroke-width="1.5" stroke-linejoin="round"/><path d="M8.4 2.6L4.9 9" stroke="#eef2f6" stroke-width="1.5" stroke-linecap="round"/></svg>
<div class="b" style="left:2184.80px;top:286.00px;width:2.8px;height:2.8px;border-radius:50%;background:#fff"></div>
<div class="b" style="left:2191.55px;top:286.00px;width:2.8px;height:2.8px;border-radius:50%;background:#fff"></div>
<div class="b" style="left:2184.80px;top:293.60px;width:2.8px;height:2.8px;border-radius:50%;background:#fff"></div>
<div class="b" style="left:2191.55px;top:293.60px;width:2.8px;height:2.8px;border-radius:50%;background:#fff"></div>
<div class="b" style="left:2184.80px;top:301.20px;width:2.8px;height:2.8px;border-radius:50%;background:#fff"></div>
<div class="b" style="left:2191.55px;top:301.20px;width:2.8px;height:2.8px;border-radius:50%;background:#fff"></div>
<div class="b" style="left:2212.70px;top:283.30px;width:1.60px;height:23.30px;background:#fff;"></div>
<div class="t " style="left:2239.80px;top:287.30px;font-size:18.20px;letter-spacing:0.986px;color:#fff;-webkit-text-stroke:0.60px #fff;">Status Comment</div>
<svg class="b" style="left:2398.40px;top:283.70px;" width="20" height="22" viewBox="0 0 20 22" fill="none"><path d="M3.6 2.1H16.4C17.6 2.1 18.1 3 18.1 4.2C18.1 5.8 17.6 7 16.4 8L12.9 11C12.2 11.6 12 12.2 12 13V17C12 17.8 11.7 18.3 11 18.8L9.9 19.5C8.6 20.3 7.1 19.6 7.1 18.1V13.4C7.1 12.5 6.8 11.9 6.2 11.3L3.2 8.3C2.2 7.3 1.8 6.2 1.8 4.8V4C1.8 2.8 2.4 2.1 3.6 2.1Z" stroke="#eef2f6" stroke-width="1.5" stroke-linejoin="round"/><path d="M8.4 2.6L4.9 9" stroke="#eef2f6" stroke-width="1.5" stroke-linecap="round"/></svg>
<div class="b" style="left:2437.80px;top:286.00px;width:2.8px;height:2.8px;border-radius:50%;background:#fff"></div>
<div class="b" style="left:2444.55px;top:286.00px;width:2.8px;height:2.8px;border-radius:50%;background:#fff"></div>
<div class="b" style="left:2437.80px;top:293.60px;width:2.8px;height:2.8px;border-radius:50%;background:#fff"></div>
<div class="b" style="left:2444.55px;top:293.60px;width:2.8px;height:2.8px;border-radius:50%;background:#fff"></div>
<div class="b" style="left:2437.80px;top:301.20px;width:2.8px;height:2.8px;border-radius:50%;background:#fff"></div>
<div class="b" style="left:2444.55px;top:301.20px;width:2.8px;height:2.8px;border-radius:50%;background:#fff"></div>
<div class="b" style="left:2466.20px;top:283.30px;width:1.60px;height:23.30px;background:#fff;"></div>
<div class="b" style="left:222.40px;top:385.00px;width:2257.60px;height:1.25px;background:#e6e6e6;"></div>
<div class="b" style="left:983.00px;top:317.20px;width:95.70px;height:66.70px;background:#f9cbc5;"></div>
<div class="t " style="left:236.40px;top:343.10px;font-size:17.50px;letter-spacing:0.943px;color:#222;-webkit-text-stroke:0.80px #222;">Denmark in Euros</div>
<div class="t " style="left:565.60px;top:344.30px;font-size:16.00px;letter-spacing:0.536px;color:#3d3d3d;">Produktion</div>
<div class="t " style="left:821.60px;top:344.30px;font-size:16.00px;letter-spacing:1.661px;color:#333;">200</div>
<div class="t " style="left:1017.70px;top:344.30px;font-size:16.00px;letter-spacing:-0.389px;color:#333;"><span style="display:inline-block;clip-path:polygon(-2px -6px,16.00px -6px,16.00px 10.74px,5.57px 10.74px,5.57px 16.00px,3.89px 16.00px,3.89px 10.74px,-2px 10.74px)">1</span>60</div>
<div class="t " style="left:1134.20px;top:344.30px;font-size:16.00px;letter-spacing:0.000px;color:#333;transform:scaleX(0.87);transform-origin:0 0;">%</div>
<div class="t " style="left:1117.20px;top:344.30px;font-size:16.00px;letter-spacing:-1.279px;color:#333;">73</div>
<div class="t " style="left:1216.00px;top:344.30px;font-size:16.00px;letter-spacing:1.661px;color:#333;">200</div>
<div class="b" style="left:1362.6px;top:335.30px;width:31.8px;height:31.8px;border-radius:50%;background:#fff;border:1.5px solid #e4e4e4"></div>
<div class="t " style="left:1368.40px;top:344.90px;font-size:13.20px;letter-spacing:0.363px;color:#444;">DC</div>
<div class="t " style="left:1575.50px;top:344.50px;font-size:16.00px;letter-spacing:-0.173px;color:#333;">02.07.2024</div>
<svg class="b" style="left:1665.10px;top:342.80px;" width="16" height="16" viewBox="0 0 16 16" fill="none"><g stroke="#333" stroke-width="1.6" stroke-linecap="round" stroke-linejoin="round"><rect x="1.6" y="2.6" width="12.8" height="12.4" rx="3"/><path d="M5 1V3.4M11 1V3.4M4.8 7.6H11M4.8 10.8H8.2"/></g></svg>
<div class="t " style="left:1795.60px;top:344.50px;font-size:16.00px;letter-spacing:-0.185px;color:#333;">02.07.2024</div>
<svg class="b" style="left:1885.30px;top:342.80px;" width="16" height="16" viewBox="0 0 16 16" fill="none"><g stroke="#333" stroke-width="1.6" stroke-linecap="round" stroke-linejoin="round"><rect x="1.6" y="2.6" width="12.8" height="12.4" rx="3"/><path d="M5 1V3.4M11 1V3.4M4.8 7.6H11M4.8 10.8H8.2"/></g></svg>
<div class="b" style="left:2001.00px;top:331.30px;width:40.40px;height:39.50px;background:#222;border-radius:4.5px 0 0 4.5px;"></div>
<div class="t " style="left:2015.73px;top:342.50px;font-size:18.20px;letter-spacing:0.000px;color:#fff;">S</div>
<div class="b" style="left:2043.80px;top:331.30px;width:40.40px;height:39.50px;background:#222;border-radius:0;"></div>
<div class="t " style="left:2058.53px;top:342.50px;font-size:18.20px;letter-spacing:0.000px;color:#fff;">A</div>
<div class="b" style="left:2086.50px;top:331.30px;width:40.40px;height:39.50px;background:#222;border-radius:0;"></div>
<div class="t " style="left:2101.23px;top:342.50px;font-size:18.20px;letter-spacing:0.000px;color:#fff;">P</div>
<div class="b" style="left:2129.20px;top:331.30px;width:40.40px;height:39.50px;background:#222;border-radius:0;"></div>
<div class="t " style="left:2147.47px;top:342.50px;font-size:18.20px;letter-spacing:0.000px;color:#fff;">I</div>
<div class="b" style="left:2172.00px;top:331.30px;width:40.40px;height:39.50px;background:#e6e6e6;border-radius:0 4.5px 4.5px 0;"></div>
<div class="t " style="left:2186.23px;top:342.50px;font-size:18.20px;letter-spacing:0.000px;color:#222;">R</div>
<div class="b" style="left:2240.00px;top:330.00px;width:239.60px;height:41.60px;background:#fff;border:1.6px solid #e6e6e6;border-radius:6px;"></div>
<div class="t " style="left:2256.67px;top:343.50px;font-size:17.80px;letter-spacing:0.587px;color:#a8a8a8;-webkit-text-stroke:0.15px #a8a8a8;">Leave a comment</div>
<div class="b" style="left:222.40px;top:454.00px;width:2257.60px;height:1.25px;background:#e6e6e6;"></div>
<div class="b" style="left:983.00px;top:387.00px;width:95.70px;height:66.20px;background:#a5d2f5;"></div>
<div class="t " style="left:236.40px;top:412.43px;font-size:17.50px;letter-spacing:1.116px;color:#222;-webkit-text-stroke:0.80px #222;">Absaugung Einhausen</div>
<div class="t " style="left:565.60px;top:413.63px;font-size:16.00px;letter-spacing:0.536px;color:#3d3d3d;">Produktion</div>
<div class="t " style="left:827.30px;top:413.63px;font-size:16.00px;letter-spacing:-0.489px;color:#333;"><span style="display:inline-block;clip-path:polygon(-2px -6px,16.00px -6px,16.00px 10.74px,5.57px 10.74px,5.57px 16.00px,3.89px 16.00px,3.89px 10.74px,-2px 10.74px)">1</span>40</div>
<div class="t " style="left:1019.30px;top:413.63px;font-size:16.00px;letter-spacing:-0.489px;color:#333;"><span style="display:inline-block;clip-path:polygon(-2px -6px,16.00px -6px,16.00px 10.74px,5.57px 10.74px,5.57px 16.00px,3.89px 16.00px,3.89px 10.74px,-2px 10.74px)">1</span>80</div>
<div class="t " style="left:1135.60px;top:413.63px;font-size:16.00px;letter-spacing:0.000px;color:#333;transform:scaleX(0.87);transform-origin:0 0;">%</div>
<div class="t " style="left:1117.10px;top:413.63px;font-size:16.00px;letter-spacing:0.221px;color:#333;">84</div>
<div class="t " style="left:1221.80px;top:413.63px;font-size:16.00px;letter-spacing:-0.489px;color:#333;"><span style="display:inline-block;clip-path:polygon(-2px -6px,16.00px -6px,16.00px 10.74px,5.57px 10.74px,5.57px 16.00px,3.89px 16.00px,3.89px 10.74px,-2px 10.74px)">1</span>40</div>
<div class="b" style="left:1362.6px;top:404.63px;width:31.8px;height:31.8px;border-radius:50%;background:#fff;border:1.5px solid #e4e4e4"></div>
<div class="t " style="left:1368.40px;top:414.23px;font-size:13.20px;letter-spacing:0.363px;color:#444;">DC</div>
<div class="t " style="left:1575.50px;top:413.83px;font-size:16.00px;letter-spacing:-0.173px;color:#333;">02.07.2024</div>
<svg class="b" style="left:1665.10px;top:412.13px;" width="16" height="16" viewBox="0 0 16 16" fill="none"><g stroke="#333" stroke-width="1.6" stroke-linecap="round" stroke-linejoin="round"><rect x="1.6" y="2.6" width="12.8" height="12.4" rx="3"/><path d="M5 1V3.4M11 1V3.4M4.8 7.6H11M4.8 10.8H8.2"/></g></svg>
<div class="t " style="left:1795.60px;top:413.83px;font-size:16.00px;letter-spacing:-0.185px;color:#333;">02.07.2024</div>
<svg class="b" style="left:1885.30px;top:412.13px;" width="16" height="16" viewBox="0 0 16 16" fill="none"><g stroke="#333" stroke-width="1.6" stroke-linecap="round" stroke-linejoin="round"><rect x="1.6" y="2.6" width="12.8" height="12.4" rx="3"/><path d="M5 1V3.4M11 1V3.4M4.8 7.6H11M4.8 10.8H8.2"/></g></svg>
<div class="b" style="left:2001.00px;top:400.63px;width:40.40px;height:39.50px;background:#222;border-radius:4.5px 0 0 4.5px;"></div>
<div class="t " style="left:2015.73px;top:411.83px;font-size:18.20px;letter-spacing:0.000px;color:#fff;">S</div>
<div class="b" style="left:2043.80px;top:400.63px;width:40.40px;height:39.50px;background:#222;border-radius:0;"></div>
<div class="t " style="left:2058.53px;top:411.83px;font-size:18.20px;letter-spacing:0.000px;color:#fff;">A</div>
<div class="b" style="left:2086.50px;top:400.63px;width:40.40px;height:39.50px;background:#5bc32c;border-radius:0;"></div>
<div class="t " style="left:2101.23px;top:411.83px;font-size:18.20px;letter-spacing:0.000px;color:#fff;">P</div>
<div class="b" style="left:2129.20px;top:400.63px;width:40.40px;height:39.50px;background:#e6e6e6;border-radius:0;"></div>
<div class="t " style="left:2147.47px;top:411.83px;font-size:18.20px;letter-spacing:0.000px;color:#222;">I</div>
<div class="b" style="left:2172.00px;top:400.63px;width:40.40px;height:39.50px;background:#e6e6e6;border-radius:0 4.5px 4.5px 0;"></div>
<div class="t " style="left:2186.23px;top:411.83px;font-size:18.20px;letter-spacing:0.000px;color:#222;">R</div>
<div class="b" style="left:2240.00px;top:399.33px;width:239.60px;height:41.60px;background:#fff;border:1.6px solid #e6e6e6;border-radius:6px;"></div>
<div class="t " style="left:2256.67px;top:412.83px;font-size:17.80px;letter-spacing:0.587px;color:#a8a8a8;-webkit-text-stroke:0.15px #a8a8a8;">Leave a comment</div>
<div class="b" style="left:222.40px;top:523.00px;width:2257.60px;height:1.25px;background:#e6e6e6;"></div>
<div class="b" style="left:983.00px;top:456.30px;width:95.70px;height:66.10px;background:#d6efc9;"></div>
<div class="t " style="left:236.40px;top:481.76px;font-size:17.50px;letter-spacing:1.101px;color:#222;-webkit-text-stroke:0.80px #222;">Setup meters reduction EMS</div>
<div class="t " style="left:565.60px;top:482.96px;font-size:16.00px;letter-spacing:0.536px;color:#3d3d3d;">Produktion</div>
<div class="t " style="left:825.80px;top:482.96px;font-size:16.00px;letter-spacing:0.261px;color:#333;"><span style="display:inline-block;clip-path:polygon(-2px -6px,16.00px -6px,16.00px 10.74px,5.57px 10.74px,5.57px 16.00px,3.89px 16.00px,3.89px 10.74px,-2px 10.74px)">1</span>00</div>
<div class="t " style="left:1017.80px;top:482.96px;font-size:16.00px;letter-spacing:0.261px;color:#333;"><span style="display:inline-block;clip-path:polygon(-2px -6px,16.00px -6px,16.00px 10.74px,5.57px 10.74px,5.57px 16.00px,3.89px 16.00px,3.89px 10.74px,-2px 10.74px)">1</span>00</div>
<div class="t " style="left:1220.30px;top:482.96px;font-size:16.00px;letter-spacing:0.261px;color:#333;"><span style="display:inline-block;clip-path:polygon(-2px -6px,16.00px -6px,16.00px 10.74px,5.57px 10.74px,5.57px 16.00px,3.89px 16.00px,3.89px 10.74px,-2px 10.74px)">1</span>00</div>
<div class="b" style="left:1362.6px;top:473.96px;width:31.8px;height:31.8px;border-radius:50%;background:#fff;border:1.5px solid #e4e4e4"></div>
<div class="t " style="left:1368.40px;top:483.56px;font-size:13.20px;letter-spacing:0.363px;color:#444;">DC</div>
<div class="t " style="left:1575.50px;top:483.16px;font-size:16.00px;letter-spacing:-0.173px;color:#333;">02.07.2024</div>
<svg class="b" style="left:1665.10px;top:481.46px;" width="16" height="16" viewBox="0 0 16 16" fill="none"><g stroke="#333" stroke-width="1.6" stroke-linecap="round" stroke-linejoin="round"><rect x="1.6" y="2.6" width="12.8" height="12.4" rx="3"/><path d="M5 1V3.4M11 1V3.4M4.8 7.6H11M4.8 10.8H8.2"/></g></svg>
<div class="t " style="left:1795.60px;top:483.16px;font-size:16.00px;letter-spacing:-0.185px;color:#333;">02.07.2024</div>
<svg class="b" style="left:1885.30px;top:481.46px;" width="16" height="16" viewBox="0 0 16 16" fill="none"><g stroke="#333" stroke-width="1.6" stroke-linecap="round" stroke-linejoin="round"><rect x="1.6" y="2.6" width="12.8" height="12.4" rx="3"/><path d="M5 1V3.4M11 1V3.4M4.8 7.6H11M4.8 10.8H8.2"/></g></svg>
<div class="b" style="left:2001.00px;top:469.96px;width:40.40px;height:39.50px;background:#222;border-radius:4.5px 0 0 4.5px;"></div>
<div class="t " style="left:2015.73px;top:481.16px;font-size:18.20px;letter-spacing:0.000px;color:#fff;">S</div>
<div class="b" style="left:2043.80px;top:469.96px;width:40.40px;height:39.50px;background:#222;border-radius:0;"></div>
<div class="t " style="left:2058.53px;top:481.16px;font-size:18.20px;letter-spacing:0.000px;color:#fff;">A</div>
<div class="b" style="left:2086.50px;top:469.96px;width:40.40px;height:39.50px;background:#5bc32c;border-radius:0;"></div>
<div class="t " style="left:2101.23px;top:481.16px;font-size:18.20px;letter-spacing:0.000px;color:#fff;">P</div>
<div class="b" style="left:2129.20px;top:469.96px;width:40.40px;height:39.50px;background:#e6e6e6;border-radius:0;"></div>
<div class="t " style="left:2147.47px;top:481.16px;font-size:18.20px;letter-spacing:0.000px;color:#222;">I</div>
<div class="b" style="left:2172.00px;top:469.96px;width:40.40px;height:39.50px;background:#e6e6e6;border-radius:0 4.5px 4.5px 0;"></div>
<div class="t " style="left:2186.23px;top:481.16px;font-size:18.20px;letter-spacing:0.000px;color:#222;">R</div>
<div class="b" style="left:2240.00px;top:468.66px;width:239.60px;height:41.60px;background:#fff;border:1.6px solid #e6e6e6;border-radius:6px;"></div>
<div class="t " style="left:2256.67px;top:482.16px;font-size:17.80px;letter-spacing:0.587px;color:#a8a8a8;-webkit-text-stroke:0.15px #a8a8a8;">Leave a comment</div>
<div class="b" style="left:222.40px;top:592.00px;width:2257.60px;height:1.25px;background:#e6e6e6;"></div>
<div class="b" style="left:983.00px;top:525.50px;width:95.70px;height:66.20px;background:#d6efc9;"></div>
<div class="t " style="left:236.40px;top:551.09px;font-size:17.50px;letter-spacing:1.196px;color:#222;-webkit-text-stroke:0.80px #222;">Vollautomatische Klischeefertigu..</div>
<div class="t " style="left:565.60px;top:552.29px;font-size:16.00px;letter-spacing:0.536px;color:#3d3d3d;">Produktion</div>
<div class="t " style="left:833.00px;top:552.29px;font-size:16.00px;letter-spacing:2.221px;color:#333;">80</div>
<div class="t " style="left:1025.00px;top:552.29px;font-size:16.00px;letter-spacing:2.221px;color:#333;">80</div>
<div class="t " style="left:1135.60px;top:552.29px;font-size:16.00px;letter-spacing:0.000px;color:#333;transform:scaleX(0.87);transform-origin:0 0;">%</div>
<div class="t " style="left:1108.00px;top:552.29px;font-size:16.00px;letter-spacing:0.211px;color:#333;"><span style="display:inline-block;clip-path:polygon(-2px -6px,16.00px -6px,16.00px 10.74px,5.57px 10.74px,5.57px 16.00px,3.89px 16.00px,3.89px 10.74px,-2px 10.74px)">1</span>00</div>
<div class="t " style="left:1227.50px;top:552.29px;font-size:16.00px;letter-spacing:2.221px;color:#333;">80</div>
<svg class="b" style="left:1362.70px;top:543.29px;" width="32" height="32" viewBox="0 0 42.5 42.5" fill="none"><defs><radialGradient id="agr3" cx="0.78" cy="0.55" r="0.75"><stop offset="0" stop-color="#b4b4b4"/><stop offset="0.45" stop-color="#d6d6d6"/><stop offset="1" stop-color="#e9e9e9"/></radialGradient><clipPath id="acr3"><circle cx="21.25" cy="21.25" r="21.25"/></clipPath></defs><g clip-path="url(#acr3)"><rect width="42.5" height="42.5" fill="url(#agr3)"/><path d="M21.2 9.4C20.4 5.2 23.4 3.2 26 3.6C28.4 3.8 29.4 5 28.8 6.4C28.6 8.2 28.6 9.6 27.6 11.6C27 12.8 26.2 13 25 12.8L24.8 14.4L21.8 14Z" fill="#2a2a2a"/><path d="M24.2 7.2C25.6 6.2 27.4 6.4 28.4 7.2C28.4 9 28 10.6 27.2 11.8C26.4 12.6 25.2 12.4 24.6 11.6Z" fill="#9a9a9a"/><path d="M14.6 14.6L21.6 13.2L26 14.4L29.6 16C30.6 16.6 31 17.4 31.2 18.6L32.2 27.6C32.4 29.8 32 32 31.4 34L30 35.6L29.2 39.6L27.6 43H13.6L14.6 36L15.2 29.6L11 27.8C10.2 27.4 10 26.8 10.4 26Z" fill="#1c1c1c"/><path d="M20.9 13.5L24.6 13.6L25.7 15.6L24.8 24.2L23.4 26L22 20.4Z" fill="#e9e9e9"/><path d="M22.7 14.9L24 15.1L23.8 22.6L23.3 24.2L22.8 22.4Z" fill="#2a2a2a"/><path d="M14.4 24.6L16.4 23.6L17 25.6L15 26.4Z" fill="#ddd"/><path d="M17 27.6L22.6 26L23.2 28.4L17.8 29.8Z" fill="#cfcfcf"/></g></svg>
<div class="t " style="left:1575.50px;top:552.49px;font-size:16.00px;letter-spacing:-0.173px;color:#333;">02.07.2024</div>
<svg class="b" style="left:1665.10px;top:550.79px;" width="16" height="16" viewBox="0 0 16 16" fill="none"><g stroke="#333" stroke-width="1.6" stroke-linecap="round" stroke-linejoin="round"><rect x="1.6" y="2.6" width="12.8" height="12.4" rx="3"/><path d="M5 1V3.4M11 1V3.4M4.8 7.6H11M4.8 10.8H8.2"/></g></svg>
<div class="t " style="left:1795.60px;top:552.49px;font-size:16.00px;letter-spacing:-0.185px;color:#333;">02.07.2024</div>
<svg class="b" style="left:1885.30px;top:550.79px;" width="16" height="16" viewBox="0 0 16 16" fill="none"><g stroke="#333" stroke-width="1.6" stroke-linecap="round" stroke-linejoin="round"><rect x="1.6" y="2.6" width="12.8" height="12.4" rx="3"/><path d="M5 1V3.4M11 1V3.4M4.8 7.6H11M4.8 10.8H8.2"/></g></svg>
<div class="b" style="left:2001.00px;top:539.29px;width:40.40px;height:39.50px;background:#222;border-radius:4.5px 0 0 4.5px;"></div>
<div class="t " style="left:2015.73px;top:550.49px;font-size:18.20px;letter-spacing:0.000px;color:#fff;">S</div>
<div class="b" style="left:2043.80px;top:539.29px;width:40.40px;height:39.50px;background:#222;border-radius:0;"></div>
<div class="t " style="left:2058.53px;top:550.49px;font-size:18.20px;letter-spacing:0.000px;color:#fff;">A</div>
<div class="b" style="left:2086.50px;top:539.29px;width:40.40px;height:39.50px;background:#222;border-radius:0;"></div>
<div class="t " style="left:2101.23px;top:550.49px;font-size:18.20px;letter-spacing:0.000px;color:#fff;">P</div>
<div class="b" style="left:2129.20px;top:539.29px;width:40.40px;height:39.50px;background:#5bc32c;border-radius:0;"></div>
<div class="t " style="left:2147.47px;top:550.49px;font-size:18.20px;letter-spacing:0.000px;color:#fff;">I</div>
<div class="b" style="left:2172.00px;top:539.29px;width:40.40px;height:39.50px;background:#e6e6e6;border-radius:0 4.5px 4.5px 0;"></div>
<div class="t " style="left:2186.23px;top:550.49px;font-size:18.20px;letter-spacing:0.000px;color:#222;">R</div>
<div class="b" style="left:2240.00px;top:537.99px;width:239.60px;height:41.60px;background:#fff;border:1.6px solid #e6e6e6;border-radius:6px;"></div>
<div class="t " style="left:2256.67px;top:551.49px;font-size:17.80px;letter-spacing:0.587px;color:#a8a8a8;-webkit-text-stroke:0.15px #a8a8a8;">Leave a comment</div>
<div class="b" style="left:222.40px;top:662.00px;width:2257.60px;height:1.25px;background:#e6e6e6;"></div>
<div class="b" style="left:983.00px;top:594.80px;width:95.70px;height:66.40px;background:#f9cbc5;"></div>
<div class="t " style="left:236.40px;top:620.42px;font-size:17.50px;letter-spacing:0.987px;color:#222;-webkit-text-stroke:0.80px #222;">Crossover zu Doppellage</div>
<div class="t " style="left:565.60px;top:602.82px;font-size:16.00px;letter-spacing:0.350px;color:#3d3d3d;">Increase throughput of</div>
<div class="t " style="left:565.60px;top:622.82px;font-size:16.00px;letter-spacing:0.605px;color:#3d3d3d;">converting/finishing through</div>
<div class="t " style="left:565.60px;top:642.82px;font-size:16.00px;letter-spacing:0.345px;color:#3d3d3d;">process flow optimization</div>
<div class="t " style="left:836.00px;top:621.62px;font-size:16.00px;letter-spacing:-0.779px;color:#333;">75</div>
<div class="t " style="left:1026.70px;top:621.62px;font-size:16.00px;letter-spacing:0.521px;color:#333;">70</div>
<div class="t " style="left:1135.60px;top:621.62px;font-size:16.00px;letter-spacing:0.000px;color:#333;transform:scaleX(0.87);transform-origin:0 0;">%</div>
<div class="t " style="left:1117.00px;top:621.62px;font-size:16.00px;letter-spacing:0.321px;color:#333;">85</div>
<div class="t " style="left:1230.50px;top:621.62px;font-size:16.00px;letter-spacing:-0.779px;color:#333;">75</div>
<div class="b" style="left:1362.6px;top:612.62px;width:31.8px;height:31.8px;border-radius:50%;background:#fff;border:1.5px solid #e4e4e4"></div>
<div class="t " style="left:1368.40px;top:622.22px;font-size:13.20px;letter-spacing:0.363px;color:#444;">DC</div>
<div class="t " style="left:1575.50px;top:621.82px;font-size:16.00px;letter-spacing:-0.173px;color:#333;">02.07.2024</div>
<svg class="b" style="left:1665.10px;top:620.12px;" width="16" height="16" viewBox="0 0 16 16" fill="none"><g stroke="#333" stroke-width="1.6" stroke-linecap="round" stroke-linejoin="round"><rect x="1.6" y="2.6" width="12.8" height="12.4" rx="3"/><path d="M5 1V3.4M11 1V3.4M4.8 7.6H11M4.8 10.8H8.2"/></g></svg>
<div class="t " style="left:1795.60px;top:621.82px;font-size:16.00px;letter-spacing:-0.185px;color:#333;">02.07.2024</div>
<svg class="b" style="left:1885.30px;top:620.12px;" width="16" height="16" viewBox="0 0 16 16" fill="none"><g stroke="#333" stroke-width="1.6" stroke-linecap="round" stroke-linejoin="round"><rect x="1.6" y="2.6" width="12.8" height="12.4" rx="3"/><path d="M5 1V3.4M11 1V3.4M4.8 7.6H11M4.8 10.8H8.2"/></g></svg>
<div class="b" style="left:2001.00px;top:608.62px;width:40.40px;height:39.50px;background:#222;border-radius:4.5px 0 0 4.5px;"></div>
<div class="t " style="left:2015.73px;top:619.82px;font-size:18.20px;letter-spacing:0.000px;color:#fff;">S</div>
<div class="b" style="left:2043.80px;top:608.62px;width:40.40px;height:39.50px;background:#222;border-radius:0;"></div>
<div class="t " style="left:2058.53px;top:619.82px;font-size:18.20px;letter-spacing:0.000px;color:#fff;">A</div>
<div class="b" style="left:2086.50px;top:608.62px;width:40.40px;height:39.50px;background:#e9c63b;border-radius:0;"></div>
<div class="t " style="left:2101.23px;top:619.82px;font-size:18.20px;letter-spacing:0.000px;color:#fff;">P</div>
<div class="b" style="left:2129.20px;top:608.62px;width:40.40px;height:39.50px;background:#e6e6e6;border-radius:0;"></div>
<div class="t " style="left:2147.47px;top:619.82px;font-size:18.20px;letter-spacing:0.000px;color:#222;">I</div>
<div class="b" style="left:2172.00px;top:608.62px;width:40.40px;height:39.50px;background:#e6e6e6;border-radius:0 4.5px 4.5px 0;"></div>
<div class="t " style="left:2186.23px;top:619.82px;font-size:18.20px;letter-spacing:0.000px;color:#222;">R</div>
<div class="b" style="left:2240.00px;top:607.32px;width:239.60px;height:41.60px;background:#fff;border:1.6px solid #e6e6e6;border-radius:6px;"></div>
<div class="t " style="left:2256.67px;top:620.82px;font-size:17.80px;letter-spacing:0.587px;color:#a8a8a8;-webkit-text-stroke:0.15px #a8a8a8;">Leave a comment</div>
<div class="b" style="left:222.40px;top:731.00px;width:2257.60px;height:1.25px;background:#e6e6e6;"></div>
<div class="b" style="left:983.00px;top:664.30px;width:95.70px;height:66.40px;background:#f9cbc5;"></div>
<div class="t " style="left:236.40px;top:689.75px;font-size:17.50px;letter-spacing:1.141px;color:#222;-webkit-text-stroke:0.80px #222;">Halterung Auftrags- und Endkost..</div>
<div class="t " style="left:565.60px;top:672.15px;font-size:16.00px;letter-spacing:0.350px;color:#3d3d3d;">Increase throughput of</div>
<div class="t " style="left:565.60px;top:692.15px;font-size:16.00px;letter-spacing:0.605px;color:#3d3d3d;">converting/finishing through</div>
<div class="t " style="left:565.60px;top:712.15px;font-size:16.00px;letter-spacing:0.345px;color:#3d3d3d;">process flow optimization</div>
<div class="t " style="left:834.70px;top:690.95px;font-size:16.00px;letter-spacing:0.521px;color:#333;">70</div>
<div class="t " style="left:1025.50px;top:690.95px;font-size:16.00px;letter-spacing:1.721px;color:#333;">50</div>
<div class="t " style="left:1135.60px;top:690.95px;font-size:16.00px;letter-spacing:0.000px;color:#333;transform:scaleX(0.87);transform-origin:0 0;">%</div>
<div class="t " style="left:1116.50px;top:690.95px;font-size:16.00px;letter-spacing:0.821px;color:#333;">92</div>
<div class="t " style="left:1229.20px;top:690.95px;font-size:16.00px;letter-spacing:0.521px;color:#333;">70</div>
<div class="b" style="left:1362.6px;top:681.95px;width:31.8px;height:31.8px;border-radius:50%;background:#fff;border:1.5px solid #e4e4e4"></div>
<div class="t " style="left:1368.40px;top:691.55px;font-size:13.20px;letter-spacing:0.363px;color:#444;">DC</div>
<div class="t " style="left:1575.50px;top:691.15px;font-size:16.00px;letter-spacing:-0.173px;color:#333;">02.07.2024</div>
<svg class="b" style="left:1665.10px;top:689.45px;" width="16" height="16" viewBox="0 0 16 16" fill="none"><g stroke="#333" stroke-width="1.6" stroke-linecap="round" stroke-linejoin="round"><rect x="1.6" y="2.6" width="12.8" height="12.4" rx="3"/><path d="M5 1V3.4M11 1V3.4M4.8 7.6H11M4.8 10.8H8.2"/></g></svg>
<div class="t " style="left:1795.60px;top:691.15px;font-size:16.00px;letter-spacing:-0.185px;color:#333;">02.07.2024</div>
<svg class="b" style="left:1885.30px;top:689.45px;" width="16" height="16" viewBox="0 0 16 16" fill="none"><g stroke="#333" stroke-width="1.6" stroke-linecap="round" stroke-linejoin="round"><rect x="1.6" y="2.6" width="12.8" height="12.4" rx="3"/><path d="M5 1V3.4M11 1V3.4M4.8 7.6H11M4.8 10.8H8.2"/></g></svg>
<div class="b" style="left:2001.00px;top:677.95px;width:40.40px;height:39.50px;background:#222;border-radius:4.5px 0 0 4.5px;"></div>
<div class="t " style="left:2015.73px;top:689.15px;font-size:18.20px;letter-spacing:0.000px;color:#fff;">S</div>
<div class="b" style="left:2043.80px;top:677.95px;width:40.40px;height:39.50px;background:#222;border-radius:0;"></div>
<div class="t " style="left:2058.53px;top:689.15px;font-size:18.20px;letter-spacing:0.000px;color:#fff;">A</div>
<div class="b" style="left:2086.50px;top:677.95px;width:40.40px;height:39.50px;background:#222;border-radius:0;"></div>
<div class="t " style="left:2101.23px;top:689.15px;font-size:18.20px;letter-spacing:0.000px;color:#fff;">P</div>
<div class="b" style="left:2129.20px;top:677.95px;width:40.40px;height:39.50px;background:#222;border-radius:0;"></div>
<div class="t " style="left:2147.47px;top:689.15px;font-size:18.20px;letter-spacing:0.000px;color:#fff;">I</div>
<div class="b" style="left:2172.00px;top:677.95px;width:40.40px;height:39.50px;background:#e6e6e6;border-radius:0 4.5px 4.5px 0;"></div>
<div class="t " style="left:2186.23px;top:689.15px;font-size:18.20px;letter-spacing:0.000px;color:#222;">R</div>
<div class="b" style="left:2240.00px;top:676.65px;width:239.60px;height:41.60px;background:#fff;border:1.6px solid #e6e6e6;border-radius:6px;"></div>
<div class="t " style="left:2256.67px;top:690.15px;font-size:17.80px;letter-spacing:0.587px;color:#a8a8a8;-webkit-text-stroke:0.15px #a8a8a8;">Leave a comment</div>
<div class="b" style="left:222.40px;top:801.00px;width:2257.60px;height:1.25px;background:#e6e6e6;"></div>
<div class="b" style="left:983.00px;top:733.80px;width:95.70px;height:66.10px;background:#f9cbc5;"></div>
<div class="t " style="left:236.40px;top:759.08px;font-size:17.50px;letter-spacing:0.943px;color:#222;-webkit-text-stroke:0.80px #222;">UV-LED F44</div>
<div class="t " style="left:565.60px;top:760.28px;font-size:16.00px;letter-spacing:0.409px;color:#3d3d3d;">Druck</div>
<div class="t " style="left:835.00px;top:760.28px;font-size:16.00px;letter-spacing:0.221px;color:#333;">65</div>
<div class="t " style="left:1025.00px;top:760.28px;font-size:16.00px;letter-spacing:2.221px;color:#333;">40</div>
<div class="t " style="left:1135.60px;top:760.28px;font-size:16.00px;letter-spacing:0.000px;color:#333;transform:scaleX(0.87);transform-origin:0 0;">%</div>
<div class="t " style="left:1114.50px;top:760.28px;font-size:16.00px;letter-spacing:0.000px;color:#333;transform:scaleX(0.862);transform-origin:0 0;"><span style="display:inline-block;clip-path:polygon(-2px -6px,16.00px -6px,16.00px 10.74px,5.57px 10.74px,5.57px 16.00px,3.89px 16.00px,3.89px 10.74px,-2px 10.74px)">1</span><span style="display:inline-block;clip-path:polygon(-2px -6px,16.00px -6px,16.00px 10.74px,5.57px 10.74px,5.57px 16.00px,3.89px 16.00px,3.89px 10.74px,-2px 10.74px)">1</span>5</div>
<div class="t " style="left:1229.50px;top:760.28px;font-size:16.00px;letter-spacing:0.221px;color:#333;">65</div>
<div class="b" style="left:1362.6px;top:751.28px;width:31.8px;height:31.8px;border-radius:50%;background:#fff;border:1.5px solid #e4e4e4"></div>
<div class="t " style="left:1368.40px;top:760.88px;font-size:13.20px;letter-spacing:0.363px;color:#444;">DC</div>
<div class="t " style="left:1575.50px;top:760.48px;font-size:16.00px;letter-spacing:-0.173px;color:#333;">02.07.2024</div>
<svg class="b" style="left:1665.10px;top:758.78px;" width="16" height="16" viewBox="0 0 16 16" fill="none"><g stroke="#333" stroke-width="1.6" stroke-linecap="round" stroke-linejoin="round"><rect x="1.6" y="2.6" width="12.8" height="12.4" rx="3"/><path d="M5 1V3.4M11 1V3.4M4.8 7.6H11M4.8 10.8H8.2"/></g></svg>
<div class="t " style="left:1795.60px;top:760.48px;font-size:16.00px;letter-spacing:-0.185px;color:#333;">02.07.2024</div>
<svg class="b" style="left:1885.30px;top:758.78px;" width="16" height="16" viewBox="0 0 16 16" fill="none"><g stroke="#333" stroke-width="1.6" stroke-linecap="round" stroke-linejoin="round"><rect x="1.6" y="2.6" width="12.8" height="12.4" rx="3"/><path d="M5 1V3.4M11 1V3.4M4.8 7.6H11M4.8 10.8H8.2"/></g></svg>
<div class="b" style="left:2001.00px;top:747.28px;width:40.40px;height:39.50px;background:#222;border-radius:4.5px 0 0 4.5px;"></div>
<div class="t " style="left:2015.73px;top:758.48px;font-size:18.20px;letter-spacing:0.000px;color:#fff;">S</div>
<div class="b" style="left:2043.80px;top:747.28px;width:40.40px;height:39.50px;background:#222;border-radius:0;"></div>
<div class="t " style="left:2058.53px;top:758.48px;font-size:18.20px;letter-spacing:0.000px;color:#fff;">A</div>
<div class="b" style="left:2086.50px;top:747.28px;width:40.40px;height:39.50px;background:#e8432b;border-radius:0;"></div>
<div class="t " style="left:2101.23px;top:758.48px;font-size:18.20px;letter-spacing:0.000px;color:#fff;">P</div>
<div class="b" style="left:2129.20px;top:747.28px;width:40.40px;height:39.50px;background:#e6e6e6;border-radius:0;"></div>
<div class="t " style="left:2147.47px;top:758.48px;font-size:18.20px;letter-spacing:0.000px;color:#222;">I</div>
<div class="b" style="left:2172.00px;top:747.28px;width:40.40px;height:39.50px;background:#e6e6e6;border-radius:0 4.5px 4.5px 0;"></div>
<div class="t " style="left:2186.23px;top:758.48px;font-size:18.20px;letter-spacing:0.000px;color:#222;">R</div>
<div class="b" style="left:2240.00px;top:745.98px;width:239.60px;height:41.60px;background:#fff;border:1.6px solid #e6e6e6;border-radius:6px;"></div>
<div class="t " style="left:2256.67px;top:759.48px;font-size:17.80px;letter-spacing:0.587px;color:#a8a8a8;-webkit-text-stroke:0.15px #a8a8a8;">Leave a comment</div>
<div class="b" style="left:222.40px;top:870.00px;width:2257.60px;height:1.25px;background:#e6e6e6;"></div>
<div class="b" style="left:983.00px;top:803.00px;width:95.70px;height:66.30px;background:#d6efc9;"></div>
<div class="t " style="left:236.40px;top:828.41px;font-size:17.50px;letter-spacing:1.334px;color:#222;-webkit-text-stroke:0.80px #222;">Alternativmaterialien</div>
<div class="t " style="left:565.60px;top:829.61px;font-size:16.00px;letter-spacing:0.266px;color:#3d3d3d;">Einkauf</div>
<div class="t " style="left:833.50px;top:829.61px;font-size:16.00px;letter-spacing:1.721px;color:#333;">60</div>
<div class="t " style="left:1025.50px;top:829.61px;font-size:16.00px;letter-spacing:1.721px;color:#333;">60</div>
<div class="t " style="left:1135.60px;top:829.61px;font-size:16.00px;letter-spacing:0.000px;color:#333;transform:scaleX(0.87);transform-origin:0 0;">%</div>
<div class="t " style="left:1114.50px;top:829.61px;font-size:16.00px;letter-spacing:0.000px;color:#333;transform:scaleX(0.821);transform-origin:0 0;"><span style="display:inline-block;clip-path:polygon(-2px -6px,16.00px -6px,16.00px 10.74px,5.57px 10.74px,5.57px 16.00px,3.89px 16.00px,3.89px 10.74px,-2px 10.74px)">1</span>4<span style="display:inline-block;clip-path:polygon(-2px -6px,16.00px -6px,16.00px 10.74px,5.57px 10.74px,5.57px 16.00px,3.89px 16.00px,3.89px 10.74px,-2px 10.74px)">1</span></div>
<div class="t " style="left:1228.00px;top:829.61px;font-size:16.00px;letter-spacing:1.721px;color:#333;">60</div>
<svg class="b" style="left:1362.70px;top:820.61px;" width="32" height="32" viewBox="0 0 42.5 42.5" fill="none"><defs><radialGradient id="agr7" cx="0.78" cy="0.55" r="0.75"><stop offset="0" stop-color="#b4b4b4"/><stop offset="0.45" stop-color="#d6d6d6"/><stop offset="1" stop-color="#e9e9e9"/></radialGradient><clipPath id="acr7"><circle cx="21.25" cy="21.25" r="21.25"/></clipPath></defs><g clip-path="url(#acr7)"><rect width="42.5" height="42.5" fill="url(#agr7)"/><path d="M21.2 9.4C20.4 5.2 23.4 3.2 26 3.6C28.4 3.8 29.4 5 28.8 6.4C28.6 8.2 28.6 9.6 27.6 11.6C27 12.8 26.2 13 25 12.8L24.8 14.4L21.8 14Z" fill="#2a2a2a"/><path d="M24.2 7.2C25.6 6.2 27.4 6.4 28.4 7.2C28.4 9 28 10.6 27.2 11.8C26.4 12.6 25.2 12.4 24.6 11.6Z" fill="#9a9a9a"/><path d="M14.6 14.6L21.6 13.2L26 14.4L29.6 16C30.6 16.6 31 17.4 31.2 18.6L32.2 27.6C32.4 29.8 32 32 31.4 34L30 35.6L29.2 39.6L27.6 43H13.6L14.6 36L15.2 29.6L11 27.8C10.2 27.4 10 26.8 10.4 26Z" fill="#1c1c1c"/><path d="M20.9 13.5L24.6 13.6L25.7 15.6L24.8 24.2L23.4 26L22 20.4Z" fill="#e9e9e9"/><path d="M22.7 14.9L24 15.1L23.8 22.6L23.3 24.2L22.8 22.4Z" fill="#2a2a2a"/><path d="M14.4 24.6L16.4 23.6L17 25.6L15 26.4Z" fill="#ddd"/><path d="M17 27.6L22.6 26L23.2 28.4L17.8 29.8Z" fill="#cfcfcf"/></g></svg>
<div class="b" style="left:1403.10px;top:820.71px;width:76.50px;height:31.00px;background:#fff;border:1.3px solid #e6e6e6;border-radius:5px;"></div>
<div class="t " style="left:1414.30px;top:828.61px;font-size:15.50px;letter-spacing:-0.458px;color:#333;">D. Cesa</div>
<div class="t " style="left:1575.50px;top:829.81px;font-size:16.00px;letter-spacing:-0.173px;color:#333;">02.07.2024</div>
<svg class="b" style="left:1665.10px;top:828.11px;" width="16" height="16" viewBox="0 0 16 16" fill="none"><g stroke="#333" stroke-width="1.6" stroke-linecap="round" stroke-linejoin="round"><rect x="1.6" y="2.6" width="12.8" height="12.4" rx="3"/><path d="M5 1V3.4M11 1V3.4M4.8 7.6H11M4.8 10.8H8.2"/></g></svg>
<div class="t " style="left:1795.60px;top:829.81px;font-size:16.00px;letter-spacing:-0.185px;color:#333;">02.07.2024</div>
<svg class="b" style="left:1885.30px;top:828.11px;" width="16" height="16" viewBox="0 0 16 16" fill="none"><g stroke="#333" stroke-width="1.6" stroke-linecap="round" stroke-linejoin="round"><rect x="1.6" y="2.6" width="12.8" height="12.4" rx="3"/><path d="M5 1V3.4M11 1V3.4M4.8 7.6H11M4.8 10.8H8.2"/></g></svg>
<div class="b" style="left:2001.00px;top:816.61px;width:40.40px;height:39.50px;background:#222;border-radius:4.5px 0 0 4.5px;"></div>
<div class="t " style="left:2015.73px;top:827.81px;font-size:18.20px;letter-spacing:0.000px;color:#fff;">S</div>
<div class="b" style="left:2043.80px;top:816.61px;width:40.40px;height:39.50px;background:#222;border-radius:0;"></div>
<div class="t " style="left:2058.53px;top:827.81px;font-size:18.20px;letter-spacing:0.000px;color:#fff;">A</div>
<div class="b" style="left:2086.50px;top:816.61px;width:40.40px;height:39.50px;background:#5bc32c;border-radius:0;"></div>
<div class="t " style="left:2101.23px;top:827.81px;font-size:18.20px;letter-spacing:0.000px;color:#fff;">P</div>
<div class="b" style="left:2129.20px;top:816.61px;width:40.40px;height:39.50px;background:#e6e6e6;border-radius:0;"></div>
<div class="t " style="left:2147.47px;top:827.81px;font-size:18.20px;letter-spacing:0.000px;color:#222;">I</div>
<div class="b" style="left:2172.00px;top:816.61px;width:40.40px;height:39.50px;background:#e6e6e6;border-radius:0 4.5px 4.5px 0;"></div>
<div class="t " style="left:2186.23px;top:827.81px;font-size:18.20px;letter-spacing:0.000px;color:#222;">R</div>
<div class="b" style="left:2240.00px;top:815.31px;width:239.60px;height:41.60px;background:#fff;border:1.6px solid #e6e6e6;border-radius:6px;"></div>
<div class="t " style="left:2256.67px;top:828.81px;font-size:17.80px;letter-spacing:0.587px;color:#a8a8a8;-webkit-text-stroke:0.15px #a8a8a8;">Leave a comment</div>
<div class="b" style="left:222.40px;top:939.00px;width:2257.60px;height:1.25px;background:#e6e6e6;"></div>
<div class="b" style="left:983.00px;top:872.40px;width:95.70px;height:66.30px;background:#f9cbc5;"></div>
<div class="t " style="left:236.40px;top:897.74px;font-size:17.50px;letter-spacing:1.191px;color:#222;-webkit-text-stroke:0.80px #222;">Farbsparmodus Inkjetdruck</div>
<div class="t " style="left:565.60px;top:898.94px;font-size:16.00px;letter-spacing:0.409px;color:#3d3d3d;">Druck</div>
<div class="t " style="left:835.50px;top:898.94px;font-size:16.00px;letter-spacing:-0.279px;color:#333;">55</div>
<div class="t " style="left:1027.50px;top:898.94px;font-size:16.00px;letter-spacing:-0.279px;color:#333;">35</div>
<div class="t " style="left:1135.60px;top:898.94px;font-size:16.00px;letter-spacing:0.000px;color:#333;transform:scaleX(0.87);transform-origin:0 0;">%</div>
<div class="t " style="left:1118.00px;top:898.94px;font-size:16.00px;letter-spacing:-0.679px;color:#333;">55</div>
<div class="t " style="left:1230.00px;top:898.94px;font-size:16.00px;letter-spacing:-0.279px;color:#333;">55</div>
<div class="b" style="left:1362.6px;top:889.94px;width:31.8px;height:31.8px;border-radius:50%;background:#fff;border:1.5px solid #e4e4e4"></div>
<div class="t " style="left:1368.40px;top:899.54px;font-size:13.20px;letter-spacing:0.363px;color:#444;">DC</div>
<div class="t " style="left:1575.50px;top:899.14px;font-size:16.00px;letter-spacing:-0.173px;color:#333;">02.07.2024</div>
<svg class="b" style="left:1665.10px;top:897.44px;" width="16" height="16" viewBox="0 0 16 16" fill="none"><g stroke="#333" stroke-width="1.6" stroke-linecap="round" stroke-linejoin="round"><rect x="1.6" y="2.6" width="12.8" height="12.4" rx="3"/><path d="M5 1V3.4M11 1V3.4M4.8 7.6H11M4.8 10.8H8.2"/></g></svg>
<div class="t " style="left:1795.60px;top:899.14px;font-size:16.00px;letter-spacing:-0.185px;color:#333;">02.07.2024</div>
<svg class="b" style="left:1885.30px;top:897.44px;" width="16" height="16" viewBox="0 0 16 16" fill="none"><g stroke="#333" stroke-width="1.6" stroke-linecap="round" stroke-linejoin="round"><rect x="1.6" y="2.6" width="12.8" height="12.4" rx="3"/><path d="M5 1V3.4M11 1V3.4M4.8 7.6H11M4.8 10.8H8.2"/></g></svg>
<div class="b" style="left:2001.00px;top:885.94px;width:40.40px;height:39.50px;background:#222;border-radius:4.5px 0 0 4.5px;"></div>
<div class="t " style="left:2015.73px;top:897.14px;font-size:18.20px;letter-spacing:0.000px;color:#fff;">S</div>
<div class="b" style="left:2043.80px;top:885.94px;width:40.40px;height:39.50px;background:#222;border-radius:0;"></div>
<div class="t " style="left:2058.53px;top:897.14px;font-size:18.20px;letter-spacing:0.000px;color:#fff;">A</div>
<div class="b" style="left:2086.50px;top:885.94px;width:40.40px;height:39.50px;background:#222;border-radius:0;"></div>
<div class="t " style="left:2101.23px;top:897.14px;font-size:18.20px;letter-spacing:0.000px;color:#fff;">P</div>
<div class="b" style="left:2129.20px;top:885.94px;width:40.40px;height:39.50px;background:#222;border-radius:0;"></div>
<div class="t " style="left:2147.47px;top:897.14px;font-size:18.20px;letter-spacing:0.000px;color:#fff;">I</div>
<div class="b" style="left:2172.00px;top:885.94px;width:40.40px;height:39.50px;background:#222;border-radius:0 4.5px 4.5px 0;"></div>
<div class="t " style="left:2186.23px;top:897.14px;font-size:18.20px;letter-spacing:0.000px;color:#fff;">R</div>
<div class="b" style="left:2240.00px;top:884.64px;width:239.60px;height:41.60px;background:#fff;border:1.6px solid #e6e6e6;border-radius:6px;"></div>
<div class="t " style="left:2256.67px;top:898.14px;font-size:17.80px;letter-spacing:0.587px;color:#a8a8a8;-webkit-text-stroke:0.15px #a8a8a8;">Leave a comment</div>
<div class="b" style="left:222.40px;top:1009.00px;width:2257.60px;height:1.25px;background:#e6e6e6;"></div>
<div class="b" style="left:983.00px;top:941.80px;width:95.70px;height:66.10px;background:#d6efc9;"></div>
<div class="t " style="left:236.40px;top:967.07px;font-size:17.50px;letter-spacing:1.291px;color:#222;-webkit-text-stroke:0.80px #222;">Reduktion Produktionskosten</div>
<div class="t " style="left:565.60px;top:968.27px;font-size:16.00px;letter-spacing:0.409px;color:#3d3d3d;">Druck</div>
<div class="t " style="left:835.50px;top:968.27px;font-size:16.00px;letter-spacing:-0.279px;color:#333;">55</div>
<div class="t " style="left:1027.50px;top:968.27px;font-size:16.00px;letter-spacing:-0.279px;color:#333;">55</div>
<div class="t " style="left:1135.60px;top:968.27px;font-size:16.00px;letter-spacing:0.000px;color:#333;transform:scaleX(0.87);transform-origin:0 0;">%</div>
<div class="t " style="left:1117.00px;top:968.27px;font-size:16.00px;letter-spacing:0.321px;color:#333;">45</div>
<div class="t " style="left:1230.00px;top:968.27px;font-size:16.00px;letter-spacing:-0.279px;color:#333;">55</div>
<div class="b" style="left:1362.6px;top:959.27px;width:31.8px;height:31.8px;border-radius:50%;background:#fff;border:1.5px solid #e4e4e4"></div>
<div class="t " style="left:1368.40px;top:968.87px;font-size:13.20px;letter-spacing:0.363px;color:#444;">DC</div>
<div class="t " style="left:1575.50px;top:968.47px;font-size:16.00px;letter-spacing:-0.173px;color:#333;">02.07.2024</div>
<svg class="b" style="left:1665.10px;top:966.77px;" width="16" height="16" viewBox="0 0 16 16" fill="none"><g stroke="#333" stroke-width="1.6" stroke-linecap="round" stroke-linejoin="round"><rect x="1.6" y="2.6" width="12.8" height="12.4" rx="3"/><path d="M5 1V3.4M11 1V3.4M4.8 7.6H11M4.8 10.8H8.2"/></g></svg>
<div class="t " style="left:1795.60px;top:968.47px;font-size:16.00px;letter-spacing:-0.185px;color:#333;">02.07.2024</div>
<svg class="b" style="left:1885.30px;top:966.77px;" width="16" height="16" viewBox="0 0 16 16" fill="none"><g stroke="#333" stroke-width="1.6" stroke-linecap="round" stroke-linejoin="round"><rect x="1.6" y="2.6" width="12.8" height="12.4" rx="3"/><path d="M5 1V3.4M11 1V3.4M4.8 7.6H11M4.8 10.8H8.2"/></g></svg>
<div class="b" style="left:2001.00px;top:955.27px;width:40.40px;height:39.50px;background:#222;border-radius:4.5px 0 0 4.5px;"></div>
<div class="t " style="left:2015.73px;top:966.47px;font-size:18.20px;letter-spacing:0.000px;color:#fff;">S</div>
<div class="b" style="left:2043.80px;top:955.27px;width:40.40px;height:39.50px;background:#222;border-radius:0;"></div>
<div class="t " style="left:2058.53px;top:966.47px;font-size:18.20px;letter-spacing:0.000px;color:#fff;">A</div>
<div class="b" style="left:2086.50px;top:955.27px;width:40.40px;height:39.50px;background:#222;border-radius:0;"></div>
<div class="t " style="left:2101.23px;top:966.47px;font-size:18.20px;letter-spacing:0.000px;color:#fff;">P</div>
<div class="b" style="left:2129.20px;top:955.27px;width:40.40px;height:39.50px;background:#222;border-radius:0;"></div>
<div class="t " style="left:2147.47px;top:966.47px;font-size:18.20px;letter-spacing:0.000px;color:#fff;">I</div>
<div class="b" style="left:2172.00px;top:955.27px;width:40.40px;height:39.50px;background:#5bc32c;border-radius:0 4.5px 4.5px 0;"></div>
<div class="t " style="left:2186.23px;top:966.47px;font-size:18.20px;letter-spacing:0.000px;color:#fff;">R</div>
<div class="b" style="left:2240.00px;top:953.97px;width:239.60px;height:41.60px;background:#fff;border:1.6px solid #e6e6e6;border-radius:6px;"></div>
<div class="t " style="left:2256.67px;top:967.47px;font-size:17.80px;letter-spacing:0.587px;color:#a8a8a8;-webkit-text-stroke:0.15px #a8a8a8;">Leave a comment</div>
<div class="b" style="left:2509.60px;top:290.00px;width:5.60px;height:345.00px;background:#e9e9e9;border-radius:3px;"></div>
<div class="b" style="left:222.60px;top:1036.20px;width:122.40px;height:42.70px;background:#4aa5ea;border-radius:5.5px;"></div>
<div class="t " style="left:233.50px;top:1049.20px;font-size:18.30px;letter-spacing:0.000px;color:#fff;-webkit-text-stroke:0.20px #fff;">Show <span style="display:inline-block;clip-path:polygon(-2px -6px,18.30px -6px,18.30px 12.55px,6.37px 12.55px,6.37px 18.00px,4.45px 18.00px,4.45px 12.55px,-2px 12.55px)">1</span>0</div>
<svg class="b" style="left:312.60px;top:1050.00px;" width="24" height="16" viewBox="0 0 24 16" fill="none"><path d="M5.10 5.00L12 11.00L18.90 5.00" stroke="#fff" stroke-width="1.8" stroke-linecap="round" stroke-linejoin="round"/></svg>
<div class="b" style="left:222.70px;top:1108.00px;width:906.70px;height:5.60px;background:#e4e4e4;border-radius:3px;"></div>
<svg class="b" style="left:2252.00px;top:1046.80px;" width="24" height="24" viewBox="0 0 24 24" fill="none"><path d="M11 5.2L4.4 12L11 18.8M19.6 5.2L13 12L19.6 18.8" stroke="#222" stroke-width="1.9" stroke-linecap="round" stroke-linejoin="round"/></svg>
<svg class="b" style="left:2283.30px;top:1046.80px;" width="24" height="24" viewBox="0 0 24 24" fill="none"><path d="M15.6 5.2L9 12L15.6 18.8" stroke="#222" stroke-width="1.9" stroke-linecap="round" stroke-linejoin="round"/></svg>
<div class="t " style="left:2317.55px;top:1050.50px;font-size:18.70px;letter-spacing:0.000px;color:#222;-webkit-text-stroke:0.30px #222;"><span style="display:inline-block;clip-path:polygon(-2px -6px,18.70px -6px,18.70px 12.52px,6.51px 12.52px,6.51px 18.00px,4.54px 18.00px,4.54px 12.52px,-2px 12.52px)">1</span></div>
<div class="b" style="left:2352.75px;top:1063.8px;width:2.5px;height:2.5px;border-radius:50%;background:#222"></div>
<div class="b" style="left:2357.55px;top:1063.8px;width:2.5px;height:2.5px;border-radius:50%;background:#222"></div>
<div class="b" style="left:2362.25px;top:1063.8px;width:2.5px;height:2.5px;border-radius:50%;background:#222"></div>
<div class="t " style="left:2393.85px;top:1050.50px;font-size:18.70px;letter-spacing:0.021px;color:#222;-webkit-text-stroke:0.30px #222;">42</div>
<svg class="b" style="left:2425.70px;top:1046.80px;" width="24" height="24" viewBox="0 0 24 24" fill="none"><path d="M8.4 5.2L15 12L8.4 18.8" stroke="#222" stroke-width="1.9" stroke-linecap="round" stroke-linejoin="round"/></svg>
<svg class="b" style="left:2457.50px;top:1046.80px;" width="24" height="24" viewBox="0 0 24 24" fill="none"><path d="M4.4 5.2L11 12L4.4 18.8M13 5.2L19.6 12L13 18.8" stroke="#222" stroke-width="1.9" stroke-linecap="round" stroke-linejoin="round"/></svg>
<div class="b" style="left:182.80px;top:1145.90px;width:1155.60px;height:254.10px;background:#fff;border:1.3px solid #e6e6e6;border-radius:13.5px;"></div>
<div class="b" style="left:1364.40px;top:1145.90px;width:1155.40px;height:254.10px;background:#fff;border:1.3px solid #e6e6e6;border-radius:13.5px;"></div>
<div class="t " style="left:223.60px;top:1188.50px;font-size:26.60px;letter-spacing:0.317px;color:#686868;-webkit-text-stroke:0.80px #686868;">Savings vs. Target</div>
<div class="t " style="left:1404.90px;top:1188.50px;font-size:26.60px;letter-spacing:1.023px;color:#686868;-webkit-text-stroke:0.80px #686868;">Number of Actions</div>
<svg class="b" style="left:1306.50px;top:1161.40px;" width="16" height="16" viewBox="0 0 16 16" fill="none"><path d="M4 4L12 12M12 4L4 12" stroke="#444" stroke-width="1.3" stroke-linecap="round"/></svg>
<svg class="b" style="left:2487.50px;top:1161.40px;" width="16" height="16" viewBox="0 0 16 16" fill="none"><path d="M4 4L12 12M12 4L4 12" stroke="#444" stroke-width="1.3" stroke-linecap="round"/></svg>
<svg class="b" style="left:1267.20px;top:1185.90px;" width="31.2" height="31.2" viewBox="0 0 24 24" fill="none"><g stroke="#444" stroke-width="1.38462" stroke-linecap="round" stroke-linejoin="round"><path d="M2.6 8.6V7.4C2.6 4.4 4.4 2.6 7.4 2.6H16.6C19.6 2.6 21.4 4.4 21.4 7.4V16.6C21.4 19.6 19.6 21.4 16.6 21.4H15.4"/><rect x="2.6" y="12.4" width="9" height="9" rx="2.6"/><path d="M12.6 11.4L17.4 6.6M13.2 6.4H17.6V10.8"/></g></svg>
<svg class="b" style="left:2448.40px;top:1185.90px;" width="31.2" height="31.2" viewBox="0 0 24 24" fill="none"><g stroke="#444" stroke-width="1.38462" stroke-linecap="round" stroke-linejoin="round"><path d="M2.6 8.6V7.4C2.6 4.4 4.4 2.6 7.4 2.6H16.6C19.6 2.6 21.4 4.4 21.4 7.4V16.6C21.4 19.6 19.6 21.4 16.6 21.4H15.4"/><rect x="2.6" y="12.4" width="9" height="9" rx="2.6"/><path d="M12.6 11.4L17.4 6.6M13.2 6.4H17.6V10.8"/></g></svg>
<div class="b" style="left:1.5px;top:1066px;width:2557px;height:377px;background:linear-gradient(to bottom,rgba(246,246,246,0.000) 0.0px,rgba(246,246,246,0.170) 34.0px,rgba(246,246,246,0.280) 51.0px,rgba(246,246,246,0.450) 80.0px,rgba(246,246,246,0.570) 103.0px,rgba(246,246,246,0.720) 134.0px,rgba(246,246,246,0.900) 174.0px,rgba(246,246,246,1.000) 214.0px,rgba(246,246,246,1.000) 377.0px);"></div>
</div>
</body></html>
